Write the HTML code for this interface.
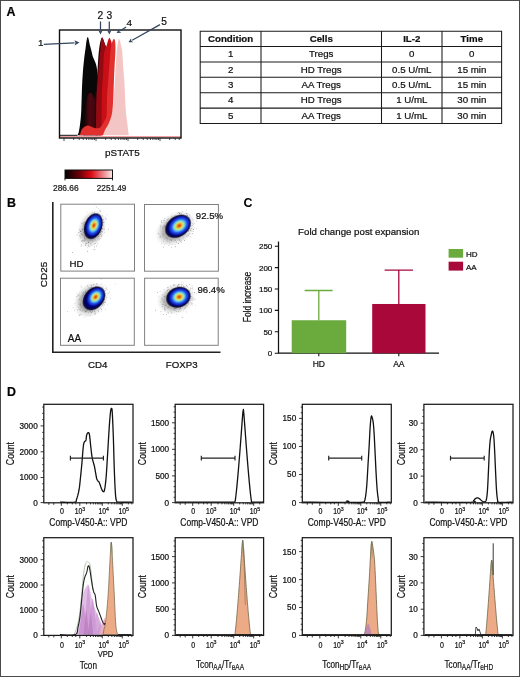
<!DOCTYPE html>
<html><head><meta charset="utf-8"><style>
html,body{margin:0;padding:0;background:#fff;}
body{width:520px;height:677px;overflow:hidden;position:relative;font-family:"Liberation Sans",sans-serif;}
#fr{position:absolute;left:0;top:0;width:518px;height:675px;border:1px solid #4a4a4a;pointer-events:none;}
svg{position:absolute;left:0;top:0;display:block;} text{filter:grayscale(1);stroke:#111;stroke-width:0.22px;}
</style></head><body>
<svg width="520" height="677" viewBox="0 0 520 677" font-family="Liberation Sans, sans-serif">
<rect x="0" y="0" width="520" height="677" fill="#fff"/>
<text x="6.6" y="15.9" font-size="12.4" font-weight="bold" fill="#000">A</text>
<path d="M97,135.3 L97.54,135.09 L98.31,134.81 L99.18,134.44 L100,134 L100.75,133.49 L101.5,132.92 L102.25,132.26 L103,131.5 L103.75,130.64 L104.5,129.69 L105.25,128.64 L106,127.5 L106.76,126.29 L107.53,125 L108.29,123.59 L109,122 L109.68,120.22 L110.33,118.28 L110.94,116.2 L111.5,114 L112,111.62 L112.46,109.06 L112.86,106.48 L113.2,104 L113.45,102.05 L113.61,100.44 L113.77,98.35 L114,95 L114.34,89.64 L114.74,82.88 L115.14,75.92 L115.5,70 L115.79,65.38 L116.05,61.44 L116.28,58.02 L116.5,55 L116.69,52.46 L116.85,50.44 L117.01,48.7 L117.2,47 L117.43,45.27 L117.69,43.63 L117.96,42.18 L118.2,41 L118.41,40.12 L118.61,39.49 L118.8,39.09 L119,38.9 L119.2,38.92 L119.39,39.15 L119.59,39.58 L119.8,40.2 L120.03,41.04 L120.28,42.09 L120.53,43.27 L120.8,44.5 L121.1,45.76 L121.42,47.08 L121.74,48.49 L122,50 L122.19,51.5 L122.33,53.03 L122.45,54.79 L122.6,57 L122.78,59.85 L122.97,63.19 L123.18,66.68 L123.4,70 L123.64,72.93 L123.9,75.69 L124.16,78.6 L124.4,82 L124.61,86.2 L124.81,90.94 L125,95.71 L125.2,100 L125.39,103.67 L125.57,107 L125.76,110.08 L126,113 L126.3,115.76 L126.64,118.31 L126.99,120.71 L127.3,123 L127.56,125.23 L127.79,127.36 L128.01,129.31 L128.2,131 L128.39,132.44 L128.56,133.65 L128.7,134.61 L128.8,135.3 Z" fill="#f4c5c5"/>
<path d="M77.5,135.3 L77.67,135 L77.92,134.59 L78.21,133.96 L78.5,133 L78.81,131.67 L79.14,130.04 L79.47,128.14 L79.8,126 L80.12,123.55 L80.45,120.81 L80.75,117.91 L81,115 L81.17,112.21 L81.29,109.44 L81.38,106.45 L81.5,103 L81.64,98.8 L81.78,94.06 L81.93,89.29 L82.1,85 L82.29,81.26 L82.5,77.81 L82.71,74.71 L82.9,72 L83.05,69.9 L83.18,68.31 L83.32,66.82 L83.5,65 L83.74,62.64 L84.03,60 L84.32,57.36 L84.6,55 L84.86,53.04 L85.11,51.31 L85.36,49.68 L85.6,48 L85.83,46.18 L86.04,44.32 L86.26,42.55 L86.5,41 L86.76,39.63 L87.04,38.38 L87.33,37.42 L87.6,36.9 L87.86,36.93 L88.11,37.41 L88.36,38.16 L88.6,39 L88.83,39.97 L89.05,41.14 L89.27,42.37 L89.5,43.5 L89.74,44.48 L89.98,45.39 L90.23,46.3 L90.5,47.3 L90.79,48.42 L91.09,49.61 L91.4,50.82 L91.7,52 L91.97,53.15 L92.22,54.29 L92.49,55.41 L92.8,56.5 L93.18,57.52 L93.61,58.5 L94.06,59.48 L94.5,60.5 L94.94,61.53 L95.39,62.56 L95.82,63.69 L96.2,65 L96.54,66.55 L96.84,68.28 L97.1,70.12 L97.3,72 L97.44,73.65 L97.52,75.19 L97.57,77.13 L97.6,80 L97.6,83.8 L97.57,88.29 L97.53,93.64 L97.5,100 L97.49,108.58 L97.49,118.9 L97.5,128.6 L97.5,135.3 Z" fill="#080808"/>
<path d="M83.3,135.3 L83.38,134 L83.5,132.15 L83.64,130.05 L83.8,128 L83.97,126.1 L84.17,124.17 L84.38,122.16 L84.6,120 L84.84,117.64 L85.09,115.12 L85.35,112.55 L85.6,110 L85.84,107.38 L86.07,104.69 L86.32,102.15 L86.6,100 L86.91,98.33 L87.24,97.01 L87.6,95.93 L88,95 L88.46,94.2 L88.96,93.58 L89.49,93.15 L90,92.9 L90.51,92.87 L91.03,93.05 L91.54,93.38 L92,93.8 L92.41,94.38 L92.79,95.11 L93.15,95.87 L93.5,96.5 L93.85,97.14 L94.18,97.79 L94.5,98.18 L94.8,98 L95.08,97.07 L95.34,95.59 L95.58,93.82 L95.8,92 L95.99,90.28 L96.15,88.5 L96.31,86.47 L96.5,84 L96.73,80.95 L96.98,77.44 L97.24,73.71 L97.5,70 L97.75,66.2 L97.99,62.25 L98.24,58.42 L98.5,55 L98.78,52.04 L99.08,49.41 L99.39,47.07 L99.7,45 L100.02,43.23 L100.35,41.75 L100.68,40.52 L101,39.5 L101.31,38.66 L101.61,38.03 L101.91,37.64 L102.2,37.5 L102.48,37.68 L102.75,38.16 L103.02,38.8 L103.3,39.5 L103.59,40.25 L103.88,41.11 L104.18,42.03 L104.5,43 L104.87,43.94 L105.26,44.89 L105.65,45.97 L106,47.3 L106.29,48.58 L106.54,49.86 L106.78,51.78 L107,55 L107.25,59.96 L107.51,66.23 L107.72,73.13 L107.8,80 L107.76,87.02 L107.64,94.44 L107.39,101.63 L107,108 L106.39,113.41 L105.61,118.17 L104.77,122.35 L104,126 L103.28,129.15 L102.56,131.78 L101.94,133.83 L101.5,135.3 Z" fill="url(#shg)"/>
<path d="M95.8,135.3 L95.83,132.66 L95.88,128.9 L95.94,124.51 L96,120 L96.06,115.14 L96.12,109.79 L96.19,104.55 L96.3,100 L96.44,96.46 L96.61,93.56 L96.79,90.88 L97,88 L97.23,84.82 L97.47,81.56 L97.74,78.27 L98,75 L98.27,71.73 L98.54,68.44 L98.82,65.18 L99.1,62 L99.4,58.87 L99.72,55.78 L100.03,52.8 L100.3,50 L100.5,47.3 L100.65,44.69 L100.8,42.36 L101,40.5 L101.27,39.18 L101.57,38.28 L101.9,37.75 L102.2,37.5 L102.48,37.61 L102.75,38.09 L103.02,38.78 L103.3,39.5 L103.59,40.25 L103.88,41.11 L104.18,42.03 L104.5,43 L104.87,43.94 L105.26,44.89 L105.65,45.97 L106,47.3 L106.29,48.58 L106.54,49.86 L106.78,51.78 L107,55 L107.25,59.96 L107.51,66.23 L107.72,73.13 L107.8,80 L107.76,87.02 L107.64,94.44 L107.39,101.63 L107,108 L106.39,113.41 L105.61,118.17 L104.77,122.35 L104,126 L103.28,129.15 L102.56,131.78 L101.94,133.83 L101.5,135.3 Z" fill="#940a12"/>
<path d="M100.5,135.3 L100.66,133.56 L100.88,131.09 L101.12,128.15 L101.3,125 L101.41,121.58 L101.49,117.79 L101.54,113.86 L101.6,110 L101.65,106.2 L101.67,102.38 L101.72,98.61 L101.8,95 L101.94,91.59 L102.11,88.31 L102.31,85.13 L102.5,82 L102.7,78.93 L102.93,75.94 L103.13,72.98 L103.3,70 L103.4,66.87 L103.44,63.66 L103.49,60.61 L103.6,58 L103.77,55.93 L103.97,54.26 L104.22,52.83 L104.5,51.5 L104.84,50.28 L105.23,49.23 L105.63,48.27 L106,47.3 L106.32,46.32 L106.62,45.37 L106.91,44.43 L107.2,43.5 L107.48,42.53 L107.75,41.54 L108.02,40.6 L108.3,39.8 L108.6,39.08 L108.9,38.43 L109.2,37.96 L109.5,37.8 L109.78,38.02 L110.05,38.54 L110.32,39.24 L110.6,40 L110.9,40.66 L111.22,41.34 L111.53,42.29 L111.8,43.8 L112.04,45.76 L112.27,48.07 L112.44,51.06 L112.5,55 L112.44,60.16 L112.27,66.33 L112.05,73.08 L111.8,80 L111.59,87.48 L111.39,95.56 L111.06,103.37 L110.5,110 L109.61,115.14 L108.48,119.29 L107.24,122.8 L106,126 L104.67,129.01 L103.22,131.65 L101.91,133.79 L101,135.3 Z" fill="#c90e16"/>
<path d="M79.5,135.3 L79.69,134.89 L79.96,134.31 L80.25,133.64 L80.5,133 L80.67,132.39 L80.8,131.76 L80.95,131.13 L81.2,130.5 L81.56,129.86 L81.99,129.21 L82.48,128.58 L83,128 L83.57,127.47 L84.18,126.98 L84.83,126.55 L85.5,126.2 L86.2,125.93 L86.94,125.73 L87.69,125.62 L88.4,125.6 L89.06,125.71 L89.69,125.93 L90.33,126.21 L91,126.5 L91.72,126.82 L92.47,127.17 L93.24,127.52 L94,127.8 L94.75,128.01 L95.5,128.18 L96.25,128.29 L97,128.3 L97.76,128.24 L98.53,128.12 L99.29,127.89 L100,127.5 L100.66,126.93 L101.29,126.2 L101.9,125.37 L102.5,124.5 L103.1,123.58 L103.7,122.59 L104.27,121.56 L104.8,120.5 L105.3,119.56 L105.77,118.69 L106.18,117.59 L106.5,116 L106.7,113.68 L106.79,110.84 L106.84,107.83 L106.9,105 L106.95,102.43 L106.98,99.94 L107.02,97.48 L107.1,95 L107.24,92.52 L107.41,90.06 L107.6,87.57 L107.8,85 L108.01,82.34 L108.24,79.62 L108.47,76.84 L108.7,74 L108.93,71.02 L109.16,67.94 L109.38,64.88 L109.6,62 L109.81,59.27 L110.01,56.62 L110.21,54.17 L110.4,52 L110.57,50.17 L110.73,48.62 L110.9,47.27 L111.1,46 L111.35,44.82 L111.64,43.76 L111.93,42.83 L112.2,42 L112.44,41.3 L112.66,40.72 L112.87,40.23 L113.1,39.8 L113.35,39.38 L113.61,39 L113.86,38.75 L114.1,38.7 L114.32,38.88 L114.53,39.25 L114.73,39.79 L114.9,40.5 L115.06,41.38 L115.2,42.42 L115.32,43.64 L115.4,45 L115.45,46.5 L115.47,48.16 L115.45,49.98 L115.4,52 L115.29,54.24 L115.14,56.69 L114.96,59.29 L114.8,62 L114.65,64.91 L114.49,68 L114.34,71.09 L114.2,74 L114.09,76.5 L114,78.75 L113.91,81.12 L113.8,84 L113.67,87.67 L113.54,91.88 L113.38,96.14 L113.2,100 L112.99,103.4 L112.77,106.56 L112.51,109.45 L112.2,112 L111.84,114.12 L111.44,115.88 L111,117.44 L110.5,119 L109.94,120.59 L109.33,122.12 L108.68,123.59 L108,125 L107.26,126.31 L106.47,127.54 L105.69,128.75 L105,130 L104.38,131.43 L103.81,132.96 L103.34,134.34 L103,135.3 Z" fill="#e2302f"/>
<rect x="59.5" y="134.8" width="18.0" height="1" fill="#111"/>
<rect x="59.5" y="136" width="121.5" height="1.2" fill="#f0a0a0"/>
<rect x="59.5" y="30" width="121.5" height="108" fill="none" stroke="#111" stroke-width="1.4"/>
<path d="M64,138 v3 M73.63,138 v2 M79.27,138 v2 M83.27,138 v2 M86.37,138 v2 M88.9,138 v2 M91.04,138 v2 M92.9,138 v2 M94.54,138 v2 M96,138 v3 M105.63,138 v2 M111.27,138 v2 M115.27,138 v2 M118.37,138 v2 M120.9,138 v2 M123.04,138 v2 M124.9,138 v2 M126.54,138 v2 M128,138 v3 M137.63,138 v2 M143.27,138 v2 M147.27,138 v2 M150.37,138 v2 M152.9,138 v2 M155.04,138 v2 M156.9,138 v2 M158.54,138 v2 M160,138 v3 M169.63,138 v2 M175.27,138 v2 M179.27,138 v2" stroke="#222" stroke-width="0.8"/>
<text x="122.5" y="156.2" font-size="9.9" text-anchor="middle" fill="#111">pSTAT5</text>
<path d="M43.8,44.3 L74.51,42.84" stroke="#34465f" stroke-width="1.25"/>
<path d="M79.5,42.6 L74.63,45.43 L75.5,42.79 L74.38,40.24 Z" fill="#34465f"/>
<path d="M100.5,21.5 L100.5,30.3" stroke="#34465f" stroke-width="1.25"/>
<path d="M100.5,34.5 L98.3,30.3 L100.5,31.3 L102.7,30.3 Z" fill="#34465f"/>
<path d="M109.3,21.5 L109.3,30.3" stroke="#34465f" stroke-width="1.25"/>
<path d="M109.3,34.5 L107.1,30.3 L109.3,31.3 L111.5,30.3 Z" fill="#34465f"/>
<path d="M126.2,27 L120.16,30.77" stroke="#34465f" stroke-width="1.25"/>
<path d="M116.6,33 L119,28.91 L119.31,31.3 L121.33,32.64 Z" fill="#34465f"/>
<path d="M160,24.6 L132.16,40.24" stroke="#34465f" stroke-width="1.25"/>
<path d="M128.5,42.3 L131.08,38.32 L131.29,40.73 L133.24,42.16 Z" fill="#34465f"/>
<text x="37.9" y="45.9" font-size="9.9" fill="#111">1</text>
<text x="97.4" y="19" font-size="10.2" fill="#111">2</text>
<text x="106.6" y="19" font-size="10.2" fill="#111">3</text>
<text x="126.5" y="26" font-size="9.9" fill="#111">4</text>
<text x="161.3" y="25.3" font-size="10.2" fill="#111">5</text>
<defs><linearGradient id="shg" gradientUnits="userSpaceOnUse" x1="83.5" y1="0" x2="96" y2="0"><stop offset="0" stop-color="#160003"/><stop offset="0.5" stop-color="#4e0810"/><stop offset="0.85" stop-color="#400610"/><stop offset="1" stop-color="#2a0208"/></linearGradient></defs>
<defs><linearGradient id="cb" x1="0" x2="1" y1="0" y2="0"><stop offset="0" stop-color="#000"/><stop offset="0.3" stop-color="#6a0008"/><stop offset="0.55" stop-color="#dc0a14"/><stop offset="0.78" stop-color="#ea7a80"/><stop offset="1" stop-color="#fbeaea"/></linearGradient></defs>
<rect x="65" y="170" width="47.5" height="8.4" fill="url(#cb)" stroke="#111" stroke-width="1"/>
<path d="M65,178.4 v2 M112.5,178.4 v2" stroke="#111" stroke-width="0.9"/>
<text x="65.8" y="191.3" font-size="8.4" text-anchor="middle" fill="#222">286.66</text>
<text x="111.6" y="191.3" font-size="8.2" text-anchor="middle" fill="#222">2251.49</text>
<path d="M200.2,31.2 V123.5 M261,31.2 V123.5 M381.5,31.2 V123.5 M442,31.2 V123.5 M501.6,31.2 V123.5 M199.7,31.2 H502.1 M199.7,46.5 H502.1 M199.7,61.9 H502.1 M199.7,77.3 H502.1 M199.7,92.7 H502.1 M199.7,108.1 H502.1 M199.7,123.5 H502.1" stroke="#1a1a1a" stroke-width="1.05"/>
<text x="230.6" y="41.9" font-size="9.7" text-anchor="middle" font-weight="bold" fill="#111">Condition</text>
<text x="321.25" y="41.9" font-size="9.7" text-anchor="middle" font-weight="bold" fill="#111">Cells</text>
<text x="411.75" y="41.9" font-size="9.7" text-anchor="middle" font-weight="bold" fill="#111">IL-2</text>
<text x="471.8" y="41.9" font-size="9.7" text-anchor="middle" font-weight="bold" fill="#111">Time</text>
<text x="230.6" y="57.2" font-size="9.7" text-anchor="middle" fill="#111">1</text>
<text x="321.25" y="57.2" font-size="9.7" text-anchor="middle" fill="#111">Tregs</text>
<text x="411.75" y="57.2" font-size="9.7" text-anchor="middle" fill="#111">0</text>
<text x="471.8" y="57.2" font-size="9.7" text-anchor="middle" fill="#111">0</text>
<text x="230.6" y="72.6" font-size="9.7" text-anchor="middle" fill="#111">2</text>
<text x="321.25" y="72.6" font-size="9.7" text-anchor="middle" fill="#111">HD Tregs</text>
<text x="411.75" y="72.6" font-size="9.7" text-anchor="middle" fill="#111">0.5 U/mL</text>
<text x="471.8" y="72.6" font-size="9.7" text-anchor="middle" fill="#111">15 min</text>
<text x="230.6" y="88" font-size="9.7" text-anchor="middle" fill="#111">3</text>
<text x="321.25" y="88" font-size="9.7" text-anchor="middle" fill="#111">AA Tregs</text>
<text x="411.75" y="88" font-size="9.7" text-anchor="middle" fill="#111">0.5 U/mL</text>
<text x="471.8" y="88" font-size="9.7" text-anchor="middle" fill="#111">15 min</text>
<text x="230.6" y="103.4" font-size="9.7" text-anchor="middle" fill="#111">4</text>
<text x="321.25" y="103.4" font-size="9.7" text-anchor="middle" fill="#111">HD Tregs</text>
<text x="411.75" y="103.4" font-size="9.7" text-anchor="middle" fill="#111">1 U/mL</text>
<text x="471.8" y="103.4" font-size="9.7" text-anchor="middle" fill="#111">30 min</text>
<text x="230.6" y="118.8" font-size="9.7" text-anchor="middle" fill="#111">5</text>
<text x="321.25" y="118.8" font-size="9.7" text-anchor="middle" fill="#111">AA Tregs</text>
<text x="411.75" y="118.8" font-size="9.7" text-anchor="middle" fill="#111">1 U/mL</text>
<text x="471.8" y="118.8" font-size="9.7" text-anchor="middle" fill="#111">30 min</text>
<text x="7.0" y="206.8" font-size="12.4" font-weight="bold" fill="#000">B</text>
<path d="M52.8,202 V352.3 H220.5" fill="none" stroke="#222" stroke-width="1.6"/>
<defs><radialGradient id="blob"><stop offset="0" stop-color="#d03010"/><stop offset="0.12" stop-color="#e86818"/><stop offset="0.22" stop-color="#e8c040"/><stop offset="0.32" stop-color="#b8e890"/><stop offset="0.42" stop-color="#60c8f0"/><stop offset="0.52" stop-color="#2a78f0"/><stop offset="0.64" stop-color="#1a3ce0"/><stop offset="0.76" stop-color="#0a1aa0"/><stop offset="0.86" stop-color="#03034c"/><stop offset="0.94" stop-color="#000020" stop-opacity="0.8"/><stop offset="1" stop-color="#000020" stop-opacity="0"/></radialGradient><radialGradient id="core"><stop offset="0" stop-color="#cc3a10"/><stop offset="0.14" stop-color="#e87a1c"/><stop offset="0.28" stop-color="#e8d050"/><stop offset="0.4" stop-color="#a8e4a8"/><stop offset="0.52" stop-color="#58bcf0"/><stop offset="0.68" stop-color="#2454e8"/><stop offset="0.84" stop-color="#1024c0"/><stop offset="1" stop-color="#0c14a8" stop-opacity="0"/></radialGradient><radialGradient id="dark"><stop offset="0" stop-color="#000090"/><stop offset="0.75" stop-color="#000068"/><stop offset="0.88" stop-color="#000030" stop-opacity="0.9"/><stop offset="1" stop-color="#000010" stop-opacity="0"/></radialGradient><radialGradient id="halo"><stop offset="0" stop-color="#444" stop-opacity="0.6"/><stop offset="0.6" stop-color="#555" stop-opacity="0.45"/><stop offset="0.8" stop-color="#888" stop-opacity="0.2"/><stop offset="1" stop-color="#aaa" stop-opacity="0"/></radialGradient></defs>
<rect x="60.8" y="204.2" width="73.7" height="66.9" fill="none" stroke="#808080" stroke-width="1"/>
<rect x="144.5" y="204.5" width="73.9" height="66.7" fill="none" stroke="#808080" stroke-width="1"/>
<rect x="60.5" y="278.2" width="73.8" height="67.1" fill="none" stroke="#808080" stroke-width="1"/>
<rect x="144.6" y="278.2" width="73.6" height="67.1" fill="none" stroke="#808080" stroke-width="1"/>
<g transform="translate(91.72,228.9) rotate(20)"><ellipse cx="0" cy="0" rx="13.95" ry="20.02" fill="url(#halo)"/></g>
<rect x="81.7" y="240.69" width="0.7" height="0.7" fill="#111" opacity="0.65"/><rect x="88.12" y="244.69" width="0.7" height="0.7" fill="#999" opacity="0.41"/><rect x="101.98" y="215.51" width="0.7" height="0.7" fill="#111" opacity="0.49"/><rect x="83.03" y="231.89" width="0.7" height="0.7" fill="#111" opacity="0.48"/><rect x="96.04" y="240.62" width="0.7" height="0.7" fill="#999" opacity="0.61"/><rect x="92.56" y="240.49" width="0.7" height="0.7" fill="#333" opacity="0.39"/><rect x="83.58" y="222.39" width="0.7" height="0.7" fill="#555" opacity="0.43"/><rect x="101.61" y="224.39" width="0.7" height="0.7" fill="#333" opacity="0.24"/><rect x="82.3" y="240.15" width="0.7" height="0.7" fill="#999" opacity="0.41"/><rect x="95.98" y="214.59" width="0.7" height="0.7" fill="#111" opacity="0.58"/><rect x="87.19" y="216.85" width="0.7" height="0.7" fill="#999" opacity="0.45"/><rect x="100.57" y="215.55" width="0.7" height="0.7" fill="#111" opacity="0.23"/><rect x="96.13" y="206.73" width="0.7" height="0.7" fill="#555" opacity="0.56"/><rect x="105.03" y="218.77" width="0.7" height="0.7" fill="#999" opacity="0.26"/><rect x="97.53" y="239.59" width="0.7" height="0.7" fill="#111" opacity="0.28"/><rect x="82.35" y="234.62" width="0.7" height="0.7" fill="#999" opacity="0.34"/><rect x="80.66" y="231.25" width="0.7" height="0.7" fill="#333" opacity="0.24"/><rect x="94.86" y="243.26" width="0.7" height="0.7" fill="#111" opacity="0.44"/><rect x="87.38" y="221.5" width="0.7" height="0.7" fill="#333" opacity="0.55"/><rect x="85.69" y="222.08" width="0.7" height="0.7" fill="#111" opacity="0.43"/><rect x="105.71" y="216.54" width="0.7" height="0.7" fill="#777" opacity="0.40"/><rect x="97.44" y="237.03" width="0.7" height="0.7" fill="#111" opacity="0.30"/><rect x="102.7" y="228.14" width="0.7" height="0.7" fill="#111" opacity="0.20"/><rect x="92.87" y="238.37" width="0.7" height="0.7" fill="#333" opacity="0.51"/><rect x="93.98" y="243.65" width="0.7" height="0.7" fill="#777" opacity="0.44"/><rect x="81.14" y="244.34" width="0.7" height="0.7" fill="#777" opacity="0.61"/><rect x="94.12" y="246.64" width="0.7" height="0.7" fill="#333" opacity="0.55"/><rect x="103.27" y="222.13" width="0.7" height="0.7" fill="#555" opacity="0.69"/><rect x="101.7" y="224.03" width="0.7" height="0.7" fill="#999" opacity="0.47"/><rect x="83.73" y="222.44" width="0.7" height="0.7" fill="#999" opacity="0.61"/><rect x="104.33" y="228.51" width="0.7" height="0.7" fill="#333" opacity="0.30"/><rect x="81.62" y="222.84" width="0.7" height="0.7" fill="#111" opacity="0.60"/><rect x="80.16" y="230.55" width="0.7" height="0.7" fill="#555" opacity="0.68"/><rect x="80.54" y="237.51" width="0.7" height="0.7" fill="#333" opacity="0.44"/><rect x="101.65" y="227.97" width="0.7" height="0.7" fill="#555" opacity="0.60"/><rect x="97.93" y="234.83" width="0.7" height="0.7" fill="#777" opacity="0.59"/><rect x="98.49" y="211.97" width="0.7" height="0.7" fill="#555" opacity="0.24"/><rect x="102.4" y="224.91" width="0.7" height="0.7" fill="#777" opacity="0.40"/><rect x="101.78" y="231.47" width="0.7" height="0.7" fill="#333" opacity="0.51"/><rect x="84.59" y="216.5" width="0.7" height="0.7" fill="#999" opacity="0.27"/><rect x="104.05" y="231.85" width="0.7" height="0.7" fill="#333" opacity="0.42"/><rect x="102.58" y="219.04" width="0.7" height="0.7" fill="#333" opacity="0.21"/><rect x="87.35" y="250.95" width="0.7" height="0.7" fill="#111" opacity="0.66"/><rect x="82.6" y="240.48" width="0.7" height="0.7" fill="#777" opacity="0.61"/><rect x="103.03" y="219.25" width="0.7" height="0.7" fill="#777" opacity="0.59"/><rect x="89.49" y="215.19" width="0.7" height="0.7" fill="#333" opacity="0.29"/><rect x="82.13" y="229.3" width="0.7" height="0.7" fill="#111" opacity="0.64"/><rect x="101.27" y="236.44" width="0.7" height="0.7" fill="#777" opacity="0.48"/><rect x="99.51" y="211.11" width="0.7" height="0.7" fill="#999" opacity="0.50"/><rect x="89.21" y="246.39" width="0.7" height="0.7" fill="#999" opacity="0.67"/><rect x="93.48" y="214.29" width="0.7" height="0.7" fill="#777" opacity="0.27"/><rect x="97.06" y="243.62" width="0.7" height="0.7" fill="#111" opacity="0.31"/><rect x="84.05" y="240.55" width="0.7" height="0.7" fill="#555" opacity="0.27"/><rect x="105.32" y="218.11" width="0.7" height="0.7" fill="#333" opacity="0.57"/><rect x="97.98" y="236.48" width="0.7" height="0.7" fill="#333" opacity="0.28"/><rect x="83.24" y="228.86" width="0.7" height="0.7" fill="#555" opacity="0.41"/><rect x="81.03" y="240.71" width="0.7" height="0.7" fill="#777" opacity="0.37"/><rect x="90.33" y="214.09" width="0.7" height="0.7" fill="#111" opacity="0.26"/><rect x="101.91" y="229.09" width="0.7" height="0.7" fill="#333" opacity="0.34"/><rect x="93.13" y="249.44" width="0.7" height="0.7" fill="#555" opacity="0.40"/><rect x="83.05" y="224.46" width="0.7" height="0.7" fill="#333" opacity="0.41"/><rect x="98.63" y="234.28" width="0.7" height="0.7" fill="#111" opacity="0.60"/><rect x="98.25" y="235.27" width="0.7" height="0.7" fill="#777" opacity="0.21"/><rect x="98.2" y="233.33" width="0.7" height="0.7" fill="#111" opacity="0.46"/><rect x="88.16" y="242.27" width="0.7" height="0.7" fill="#555" opacity="0.47"/><rect x="88.22" y="241.84" width="0.7" height="0.7" fill="#111" opacity="0.70"/><rect x="102.4" y="233.76" width="0.7" height="0.7" fill="#999" opacity="0.44"/><rect x="99.19" y="227.08" width="0.7" height="0.7" fill="#777" opacity="0.47"/><rect x="103.46" y="220.71" width="0.7" height="0.7" fill="#333" opacity="0.40"/><rect x="84.28" y="235.22" width="0.7" height="0.7" fill="#555" opacity="0.42"/><rect x="100.13" y="234" width="0.7" height="0.7" fill="#555" opacity="0.50"/><rect x="94.15" y="212.77" width="0.7" height="0.7" fill="#111" opacity="0.33"/><rect x="101.26" y="228.35" width="0.7" height="0.7" fill="#555" opacity="0.29"/><rect x="83.86" y="240.3" width="0.7" height="0.7" fill="#333" opacity="0.45"/><rect x="100.94" y="229.63" width="0.7" height="0.7" fill="#555" opacity="0.51"/><rect x="98.5" y="235.85" width="0.7" height="0.7" fill="#333" opacity="0.53"/><rect x="92.31" y="212.27" width="0.7" height="0.7" fill="#999" opacity="0.52"/><rect x="101.05" y="233.47" width="0.7" height="0.7" fill="#999" opacity="0.51"/><rect x="97.05" y="213.26" width="0.7" height="0.7" fill="#999" opacity="0.48"/><rect x="98.56" y="220.48" width="0.7" height="0.7" fill="#333" opacity="0.24"/><rect x="101.19" y="235.44" width="0.7" height="0.7" fill="#111" opacity="0.51"/><rect x="94.27" y="212.74" width="0.7" height="0.7" fill="#999" opacity="0.65"/><rect x="96.26" y="245.73" width="0.7" height="0.7" fill="#333" opacity="0.56"/><rect x="91.15" y="239.48" width="0.7" height="0.7" fill="#777" opacity="0.45"/><rect x="80.47" y="234.87" width="0.7" height="0.7" fill="#999" opacity="0.52"/><rect x="91.6" y="239.17" width="0.7" height="0.7" fill="#555" opacity="0.33"/><rect x="97.59" y="214.47" width="0.7" height="0.7" fill="#111" opacity="0.55"/><rect x="91.59" y="213.08" width="0.7" height="0.7" fill="#777" opacity="0.58"/><rect x="101.41" y="231.25" width="0.7" height="0.7" fill="#111" opacity="0.61"/><rect x="101.44" y="228.18" width="0.7" height="0.7" fill="#333" opacity="0.24"/><rect x="95.08" y="239.6" width="0.7" height="0.7" fill="#555" opacity="0.64"/><rect x="91.87" y="214.49" width="0.7" height="0.7" fill="#111" opacity="0.28"/><rect x="103.29" y="225.11" width="0.7" height="0.7" fill="#777" opacity="0.37"/><rect x="84.1" y="238.77" width="0.7" height="0.7" fill="#111" opacity="0.36"/><rect x="80.78" y="245.27" width="0.7" height="0.7" fill="#555" opacity="0.39"/><rect x="80.55" y="233.68" width="0.7" height="0.7" fill="#999" opacity="0.24"/><rect x="102.26" y="228.07" width="0.7" height="0.7" fill="#333" opacity="0.32"/><rect x="85.1" y="244.85" width="0.7" height="0.7" fill="#333" opacity="0.59"/><rect x="99.66" y="214.44" width="0.7" height="0.7" fill="#777" opacity="0.66"/><rect x="102.5" y="224.47" width="0.7" height="0.7" fill="#111" opacity="0.22"/><rect x="98.45" y="208" width="0.7" height="0.7" fill="#555" opacity="0.44"/><rect x="103.69" y="221.76" width="0.7" height="0.7" fill="#333" opacity="0.44"/><rect x="84.12" y="235.79" width="0.7" height="0.7" fill="#555" opacity="0.40"/><rect x="84.88" y="245.05" width="0.7" height="0.7" fill="#333" opacity="0.24"/><rect x="82.88" y="228.33" width="0.7" height="0.7" fill="#777" opacity="0.27"/><rect x="90.13" y="243.45" width="0.7" height="0.7" fill="#333" opacity="0.38"/><rect x="100.34" y="215.95" width="0.7" height="0.7" fill="#777" opacity="0.41"/><rect x="84.34" y="221.74" width="0.7" height="0.7" fill="#555" opacity="0.49"/><rect x="83.7" y="234.64" width="0.7" height="0.7" fill="#333" opacity="0.25"/><rect x="102.61" y="222.66" width="0.7" height="0.7" fill="#555" opacity="0.62"/><rect x="102.58" y="219.14" width="0.7" height="0.7" fill="#777" opacity="0.68"/><rect x="81.18" y="230.76" width="0.7" height="0.7" fill="#999" opacity="0.63"/><rect x="99.62" y="231.86" width="0.7" height="0.7" fill="#777" opacity="0.24"/><rect x="99.21" y="217.34" width="0.7" height="0.7" fill="#111" opacity="0.52"/><rect x="85.5" y="238.19" width="0.7" height="0.7" fill="#111" opacity="0.25"/><rect x="85.61" y="238.42" width="0.7" height="0.7" fill="#333" opacity="0.39"/><rect x="88.28" y="245.78" width="0.7" height="0.7" fill="#333" opacity="0.44"/><rect x="85.6" y="243.74" width="0.7" height="0.7" fill="#555" opacity="0.23"/><rect x="90.51" y="245.54" width="0.7" height="0.7" fill="#555" opacity="0.31"/><rect x="100.31" y="238.03" width="0.7" height="0.7" fill="#333" opacity="0.20"/><rect x="85.8" y="243.18" width="0.7" height="0.7" fill="#333" opacity="0.32"/><rect x="90.16" y="239.62" width="0.7" height="0.7" fill="#555" opacity="0.25"/><rect x="85.6" y="210.9" width="0.7" height="0.7" fill="#999" opacity="0.27"/><rect x="76.6" y="234.56" width="0.7" height="0.7" fill="#111" opacity="0.55"/><rect x="91.64" y="244.47" width="0.7" height="0.7" fill="#333" opacity="0.36"/><rect x="92.28" y="240.13" width="0.7" height="0.7" fill="#777" opacity="0.22"/><rect x="92.22" y="211.96" width="0.7" height="0.7" fill="#555" opacity="0.24"/><rect x="82.45" y="230.09" width="0.7" height="0.7" fill="#999" opacity="0.68"/><rect x="90.44" y="242.85" width="0.7" height="0.7" fill="#777" opacity="0.24"/><rect x="93.91" y="211.62" width="0.7" height="0.7" fill="#555" opacity="0.38"/><rect x="104.99" y="219.75" width="0.7" height="0.7" fill="#777" opacity="0.22"/><rect x="96.58" y="233.76" width="0.7" height="0.7" fill="#111" opacity="0.65"/><rect x="84.59" y="235.72" width="0.7" height="0.7" fill="#555" opacity="0.57"/><rect x="95.28" y="204.66" width="0.7" height="0.7" fill="#555" opacity="0.20"/><rect x="99.68" y="209.87" width="0.7" height="0.7" fill="#111" opacity="0.61"/><rect x="97.5" y="238.02" width="0.7" height="0.7" fill="#777" opacity="0.68"/><rect x="80.59" y="233.16" width="0.7" height="0.7" fill="#555" opacity="0.61"/><rect x="100.51" y="211.05" width="0.7" height="0.7" fill="#555" opacity="0.63"/><rect x="83.85" y="226.34" width="0.7" height="0.7" fill="#777" opacity="0.58"/><rect x="87.23" y="247.05" width="0.7" height="0.7" fill="#555" opacity="0.28"/><rect x="83.47" y="229.21" width="0.7" height="0.7" fill="#333" opacity="0.25"/><rect x="84.81" y="223.25" width="0.7" height="0.7" fill="#777" opacity="0.29"/><rect x="94.41" y="249.38" width="0.7" height="0.7" fill="#111" opacity="0.59"/><rect x="84.85" y="240.43" width="0.7" height="0.7" fill="#555" opacity="0.30"/><rect x="89.07" y="238.23" width="0.7" height="0.7" fill="#999" opacity="0.29"/><rect x="98.76" y="238.66" width="0.7" height="0.7" fill="#111" opacity="0.53"/><rect x="103.69" y="229" width="0.7" height="0.7" fill="#777" opacity="0.66"/><rect x="100.71" y="234.55" width="0.7" height="0.7" fill="#999" opacity="0.30"/><rect x="99.31" y="235.72" width="0.7" height="0.7" fill="#111" opacity="0.25"/><rect x="89.23" y="216.93" width="0.7" height="0.7" fill="#333" opacity="0.22"/><rect x="72.36" y="252.13" width="0.7" height="0.7" fill="#111" opacity="0.61"/><rect x="78.49" y="232.27" width="0.7" height="0.7" fill="#111" opacity="0.60"/><rect x="83.95" y="223.69" width="0.7" height="0.7" fill="#111" opacity="0.53"/><rect x="79.76" y="236.13" width="0.7" height="0.7" fill="#777" opacity="0.68"/><rect x="80.78" y="245.96" width="0.7" height="0.7" fill="#555" opacity="0.52"/><rect x="79.46" y="235.31" width="0.7" height="0.7" fill="#333" opacity="0.41"/><rect x="103.81" y="211.64" width="0.7" height="0.7" fill="#999" opacity="0.27"/><rect x="100.13" y="219.04" width="0.7" height="0.7" fill="#999" opacity="0.29"/><rect x="82.79" y="240.52" width="0.7" height="0.7" fill="#333" opacity="0.35"/><rect x="98.54" y="218.37" width="0.7" height="0.7" fill="#999" opacity="0.66"/><rect x="81.35" y="233.72" width="0.7" height="0.7" fill="#333" opacity="0.52"/><rect x="103.62" y="216.77" width="0.7" height="0.7" fill="#999" opacity="0.62"/><rect x="99.37" y="219.04" width="0.7" height="0.7" fill="#111" opacity="0.27"/><rect x="103.53" y="226.96" width="0.7" height="0.7" fill="#333" opacity="0.22"/><rect x="87.66" y="218.97" width="0.7" height="0.7" fill="#111" opacity="0.39"/><rect x="83.79" y="226.77" width="0.7" height="0.7" fill="#555" opacity="0.52"/><rect x="84.31" y="237.61" width="0.7" height="0.7" fill="#111" opacity="0.51"/><rect x="79.45" y="229.11" width="0.7" height="0.7" fill="#777" opacity="0.62"/><rect x="99.37" y="221.03" width="0.7" height="0.7" fill="#999" opacity="0.46"/><rect x="100.25" y="232.38" width="0.7" height="0.7" fill="#111" opacity="0.66"/><rect x="86.07" y="236.3" width="0.7" height="0.7" fill="#777" opacity="0.53"/><rect x="99.68" y="218.21" width="0.7" height="0.7" fill="#111" opacity="0.30"/><rect x="108.08" y="228.83" width="0.7" height="0.7" fill="#333" opacity="0.54"/><rect x="92.76" y="217.86" width="0.7" height="0.7" fill="#555" opacity="0.28"/><rect x="100.87" y="227.44" width="0.7" height="0.7" fill="#333" opacity="0.50"/><rect x="87.07" y="211.87" width="0.7" height="0.7" fill="#777" opacity="0.28"/><rect x="101.46" y="224.46" width="0.7" height="0.7" fill="#999" opacity="0.22"/><rect x="106.6" y="214.27" width="0.7" height="0.7" fill="#777" opacity="0.48"/><rect x="87.98" y="217.05" width="0.7" height="0.7" fill="#777" opacity="0.57"/><rect x="82.33" y="234.54" width="0.7" height="0.7" fill="#555" opacity="0.58"/><rect x="78.94" y="229.93" width="0.7" height="0.7" fill="#999" opacity="0.66"/><rect x="106.27" y="218.91" width="0.7" height="0.7" fill="#111" opacity="0.31"/><rect x="85.49" y="242.98" width="0.7" height="0.7" fill="#999" opacity="0.53"/><rect x="100.64" y="232.5" width="0.7" height="0.7" fill="#555" opacity="0.47"/><rect x="80.37" y="231.27" width="0.7" height="0.7" fill="#111" opacity="0.67"/><rect x="88.24" y="244.73" width="0.7" height="0.7" fill="#555" opacity="0.40"/><rect x="86.03" y="243.01" width="0.7" height="0.7" fill="#555" opacity="0.50"/><rect x="88.27" y="217.77" width="0.7" height="0.7" fill="#999" opacity="0.57"/><rect x="88.71" y="239.07" width="0.7" height="0.7" fill="#777" opacity="0.29"/><rect x="93.93" y="238.4" width="0.7" height="0.7" fill="#111" opacity="0.21"/>
<g transform="translate(93.3,226.2) rotate(20)"><ellipse cx="0" cy="0" rx="9.3" ry="14.1" fill="url(#dark)"/></g>
<g transform="translate(93.9,225.4) rotate(20)"><ellipse cx="0" cy="0" rx="7.81" ry="11.84" fill="url(#core)"/></g>
<g transform="translate(175.3,228.55) rotate(-35)"><ellipse cx="0" cy="0" rx="22.2" ry="15.48" fill="url(#halo)"/></g>
<rect x="159.55" y="234.83" width="0.7" height="0.7" fill="#777" opacity="0.61"/><rect x="186.45" y="230.49" width="0.7" height="0.7" fill="#777" opacity="0.56"/><rect x="186.99" y="219.6" width="0.7" height="0.7" fill="#333" opacity="0.70"/><rect x="184.89" y="238.52" width="0.7" height="0.7" fill="#111" opacity="0.37"/><rect x="171.2" y="216.65" width="0.7" height="0.7" fill="#555" opacity="0.52"/><rect x="162.7" y="220.09" width="0.7" height="0.7" fill="#999" opacity="0.69"/><rect x="178.03" y="243.05" width="0.7" height="0.7" fill="#333" opacity="0.62"/><rect x="182.44" y="234.46" width="0.7" height="0.7" fill="#777" opacity="0.36"/><rect x="186.69" y="236.55" width="0.7" height="0.7" fill="#999" opacity="0.43"/><rect x="179.33" y="212.81" width="0.7" height="0.7" fill="#111" opacity="0.42"/><rect x="164.47" y="218.42" width="0.7" height="0.7" fill="#333" opacity="0.27"/><rect x="184.35" y="221.48" width="0.7" height="0.7" fill="#333" opacity="0.55"/><rect x="192.7" y="218.92" width="0.7" height="0.7" fill="#999" opacity="0.58"/><rect x="189.75" y="233.33" width="0.7" height="0.7" fill="#999" opacity="0.65"/><rect x="195.95" y="220.79" width="0.7" height="0.7" fill="#111" opacity="0.32"/><rect x="184.07" y="240.03" width="0.7" height="0.7" fill="#111" opacity="0.61"/><rect x="160.63" y="226.77" width="0.7" height="0.7" fill="#555" opacity="0.37"/><rect x="176.82" y="236.33" width="0.7" height="0.7" fill="#555" opacity="0.66"/><rect x="167.15" y="219.61" width="0.7" height="0.7" fill="#111" opacity="0.42"/><rect x="168.09" y="218.56" width="0.7" height="0.7" fill="#333" opacity="0.56"/><rect x="174.42" y="214.91" width="0.7" height="0.7" fill="#111" opacity="0.20"/><rect x="160.47" y="236.43" width="0.7" height="0.7" fill="#777" opacity="0.50"/><rect x="184.83" y="218.56" width="0.7" height="0.7" fill="#333" opacity="0.45"/><rect x="190.46" y="225.5" width="0.7" height="0.7" fill="#111" opacity="0.45"/><rect x="189.33" y="222.7" width="0.7" height="0.7" fill="#111" opacity="0.41"/><rect x="164.1" y="227.05" width="0.7" height="0.7" fill="#999" opacity="0.45"/><rect x="169.44" y="243.77" width="0.7" height="0.7" fill="#999" opacity="0.52"/><rect x="174.87" y="244" width="0.7" height="0.7" fill="#999" opacity="0.57"/><rect x="193.28" y="231.29" width="0.7" height="0.7" fill="#333" opacity="0.37"/><rect x="164.54" y="224.49" width="0.7" height="0.7" fill="#999" opacity="0.30"/><rect x="179.07" y="239.58" width="0.7" height="0.7" fill="#555" opacity="0.50"/><rect x="168.35" y="245.13" width="0.7" height="0.7" fill="#111" opacity="0.28"/><rect x="164.51" y="225.38" width="0.7" height="0.7" fill="#555" opacity="0.30"/><rect x="163.26" y="227.25" width="0.7" height="0.7" fill="#111" opacity="0.21"/><rect x="180.64" y="213.03" width="0.7" height="0.7" fill="#555" opacity="0.43"/><rect x="190.2" y="227.87" width="0.7" height="0.7" fill="#777" opacity="0.20"/><rect x="185.94" y="236.19" width="0.7" height="0.7" fill="#777" opacity="0.62"/><rect x="163.76" y="221.84" width="0.7" height="0.7" fill="#999" opacity="0.63"/><rect x="161.62" y="222.03" width="0.7" height="0.7" fill="#777" opacity="0.32"/><rect x="171" y="240.1" width="0.7" height="0.7" fill="#333" opacity="0.33"/><rect x="163.11" y="246.74" width="0.7" height="0.7" fill="#333" opacity="0.65"/><rect x="171.81" y="243.72" width="0.7" height="0.7" fill="#111" opacity="0.22"/><rect x="162.51" y="232.99" width="0.7" height="0.7" fill="#999" opacity="0.37"/><rect x="178.92" y="213.15" width="0.7" height="0.7" fill="#111" opacity="0.52"/><rect x="178.33" y="212.2" width="0.7" height="0.7" fill="#333" opacity="0.70"/><rect x="187.97" y="230.75" width="0.7" height="0.7" fill="#111" opacity="0.56"/><rect x="163.8" y="227.31" width="0.7" height="0.7" fill="#777" opacity="0.51"/><rect x="166.23" y="221.95" width="0.7" height="0.7" fill="#111" opacity="0.31"/><rect x="163.83" y="218.34" width="0.7" height="0.7" fill="#333" opacity="0.28"/><rect x="180.74" y="215.66" width="0.7" height="0.7" fill="#999" opacity="0.56"/><rect x="176.9" y="212.99" width="0.7" height="0.7" fill="#777" opacity="0.43"/><rect x="181.29" y="239.73" width="0.7" height="0.7" fill="#333" opacity="0.59"/><rect x="167.91" y="235.76" width="0.7" height="0.7" fill="#555" opacity="0.69"/><rect x="160.25" y="226.28" width="0.7" height="0.7" fill="#555" opacity="0.32"/><rect x="180.44" y="239.64" width="0.7" height="0.7" fill="#555" opacity="0.28"/><rect x="179.2" y="240.21" width="0.7" height="0.7" fill="#555" opacity="0.59"/><rect x="191.63" y="233.65" width="0.7" height="0.7" fill="#555" opacity="0.33"/><rect x="193.09" y="229.08" width="0.7" height="0.7" fill="#555" opacity="0.59"/><rect x="188.84" y="233.92" width="0.7" height="0.7" fill="#999" opacity="0.69"/><rect x="192.93" y="223.71" width="0.7" height="0.7" fill="#999" opacity="0.59"/><rect x="179.16" y="213.75" width="0.7" height="0.7" fill="#777" opacity="0.54"/><rect x="192.22" y="230.86" width="0.7" height="0.7" fill="#777" opacity="0.45"/><rect x="188.69" y="224.57" width="0.7" height="0.7" fill="#111" opacity="0.28"/><rect x="178.41" y="237.21" width="0.7" height="0.7" fill="#777" opacity="0.53"/><rect x="179.4" y="212.92" width="0.7" height="0.7" fill="#111" opacity="0.29"/><rect x="174.75" y="239.9" width="0.7" height="0.7" fill="#111" opacity="0.50"/><rect x="165.95" y="221.05" width="0.7" height="0.7" fill="#999" opacity="0.44"/><rect x="170.74" y="219.45" width="0.7" height="0.7" fill="#333" opacity="0.37"/><rect x="181.39" y="212.63" width="0.7" height="0.7" fill="#333" opacity="0.34"/><rect x="176.05" y="241.81" width="0.7" height="0.7" fill="#555" opacity="0.61"/><rect x="170.79" y="239.84" width="0.7" height="0.7" fill="#333" opacity="0.53"/><rect x="173.11" y="218.29" width="0.7" height="0.7" fill="#999" opacity="0.69"/><rect x="194.08" y="223.26" width="0.7" height="0.7" fill="#777" opacity="0.47"/><rect x="190.15" y="222.6" width="0.7" height="0.7" fill="#777" opacity="0.50"/><rect x="165.56" y="223.32" width="0.7" height="0.7" fill="#999" opacity="0.27"/><rect x="161.34" y="220.31" width="0.7" height="0.7" fill="#111" opacity="0.31"/><rect x="161.13" y="221.75" width="0.7" height="0.7" fill="#111" opacity="0.66"/><rect x="159.83" y="228.29" width="0.7" height="0.7" fill="#999" opacity="0.56"/><rect x="176.82" y="218.34" width="0.7" height="0.7" fill="#111" opacity="0.45"/><rect x="165.54" y="233.24" width="0.7" height="0.7" fill="#777" opacity="0.49"/><rect x="180.84" y="220.81" width="0.7" height="0.7" fill="#333" opacity="0.44"/><rect x="166.89" y="238.47" width="0.7" height="0.7" fill="#333" opacity="0.51"/><rect x="167.34" y="241.52" width="0.7" height="0.7" fill="#111" opacity="0.31"/><rect x="188.11" y="229.74" width="0.7" height="0.7" fill="#777" opacity="0.57"/><rect x="192.16" y="233.09" width="0.7" height="0.7" fill="#333" opacity="0.56"/><rect x="192.3" y="223.35" width="0.7" height="0.7" fill="#777" opacity="0.43"/><rect x="185.78" y="215.82" width="0.7" height="0.7" fill="#111" opacity="0.23"/><rect x="185.83" y="206.37" width="0.7" height="0.7" fill="#999" opacity="0.24"/><rect x="179.16" y="236.86" width="0.7" height="0.7" fill="#777" opacity="0.50"/><rect x="178.87" y="238.68" width="0.7" height="0.7" fill="#777" opacity="0.43"/><rect x="189.9" y="229.9" width="0.7" height="0.7" fill="#333" opacity="0.51"/><rect x="165.4" y="242.92" width="0.7" height="0.7" fill="#999" opacity="0.37"/><rect x="182.63" y="238.66" width="0.7" height="0.7" fill="#999" opacity="0.37"/><rect x="162.17" y="227.68" width="0.7" height="0.7" fill="#333" opacity="0.50"/><rect x="175.17" y="246.17" width="0.7" height="0.7" fill="#333" opacity="0.60"/><rect x="180.26" y="240.95" width="0.7" height="0.7" fill="#999" opacity="0.66"/><rect x="166.64" y="223.15" width="0.7" height="0.7" fill="#333" opacity="0.34"/><rect x="180.44" y="212.53" width="0.7" height="0.7" fill="#777" opacity="0.37"/><rect x="191.28" y="228.11" width="0.7" height="0.7" fill="#333" opacity="0.35"/><rect x="187.34" y="226.76" width="0.7" height="0.7" fill="#999" opacity="0.58"/><rect x="175.05" y="215.3" width="0.7" height="0.7" fill="#111" opacity="0.32"/><rect x="165.32" y="229.25" width="0.7" height="0.7" fill="#999" opacity="0.36"/><rect x="160.36" y="235.83" width="0.7" height="0.7" fill="#999" opacity="0.48"/><rect x="171.14" y="239.4" width="0.7" height="0.7" fill="#333" opacity="0.32"/><rect x="186.06" y="209.73" width="0.7" height="0.7" fill="#555" opacity="0.50"/><rect x="176.49" y="237.53" width="0.7" height="0.7" fill="#111" opacity="0.25"/><rect x="188.81" y="233.4" width="0.7" height="0.7" fill="#333" opacity="0.33"/><rect x="166.61" y="218.9" width="0.7" height="0.7" fill="#999" opacity="0.68"/><rect x="183.83" y="236.5" width="0.7" height="0.7" fill="#999" opacity="0.38"/><rect x="163.08" y="225.77" width="0.7" height="0.7" fill="#999" opacity="0.52"/><rect x="183.56" y="215.93" width="0.7" height="0.7" fill="#999" opacity="0.40"/><rect x="161.39" y="243.33" width="0.7" height="0.7" fill="#333" opacity="0.29"/><rect x="187" y="215.27" width="0.7" height="0.7" fill="#111" opacity="0.62"/><rect x="190.55" y="221.14" width="0.7" height="0.7" fill="#777" opacity="0.23"/><rect x="189.4" y="227.99" width="0.7" height="0.7" fill="#555" opacity="0.49"/><rect x="163.85" y="243.7" width="0.7" height="0.7" fill="#777" opacity="0.36"/><rect x="182.73" y="237.64" width="0.7" height="0.7" fill="#111" opacity="0.43"/><rect x="185.97" y="212.9" width="0.7" height="0.7" fill="#333" opacity="0.66"/><rect x="189.85" y="236.51" width="0.7" height="0.7" fill="#333" opacity="0.59"/><rect x="189.34" y="214.44" width="0.7" height="0.7" fill="#777" opacity="0.62"/><rect x="163.24" y="225.65" width="0.7" height="0.7" fill="#777" opacity="0.26"/><rect x="169.37" y="239.39" width="0.7" height="0.7" fill="#777" opacity="0.48"/><rect x="189.9" y="229.85" width="0.7" height="0.7" fill="#555" opacity="0.37"/><rect x="187.82" y="235.51" width="0.7" height="0.7" fill="#111" opacity="0.28"/><rect x="162.43" y="235.82" width="0.7" height="0.7" fill="#999" opacity="0.44"/><rect x="180.78" y="241.87" width="0.7" height="0.7" fill="#555" opacity="0.70"/><rect x="186.68" y="213.65" width="0.7" height="0.7" fill="#111" opacity="0.62"/><rect x="184.94" y="219.02" width="0.7" height="0.7" fill="#999" opacity="0.37"/><rect x="195.92" y="228.41" width="0.7" height="0.7" fill="#333" opacity="0.38"/><rect x="188.07" y="221.98" width="0.7" height="0.7" fill="#333" opacity="0.46"/><rect x="186.24" y="234.67" width="0.7" height="0.7" fill="#999" opacity="0.57"/><rect x="170.35" y="218.54" width="0.7" height="0.7" fill="#333" opacity="0.49"/><rect x="185.38" y="234.56" width="0.7" height="0.7" fill="#555" opacity="0.37"/><rect x="179.49" y="213.19" width="0.7" height="0.7" fill="#777" opacity="0.25"/><rect x="171.75" y="237.21" width="0.7" height="0.7" fill="#333" opacity="0.29"/><rect x="177.35" y="215.99" width="0.7" height="0.7" fill="#999" opacity="0.63"/><rect x="171.37" y="247.04" width="0.7" height="0.7" fill="#555" opacity="0.59"/><rect x="182.32" y="211.46" width="0.7" height="0.7" fill="#111" opacity="0.35"/><rect x="184.72" y="226.14" width="0.7" height="0.7" fill="#333" opacity="0.68"/><rect x="187.07" y="236.71" width="0.7" height="0.7" fill="#111" opacity="0.21"/><rect x="185.37" y="215.7" width="0.7" height="0.7" fill="#999" opacity="0.43"/><rect x="183.43" y="236.12" width="0.7" height="0.7" fill="#333" opacity="0.22"/><rect x="193.16" y="228.93" width="0.7" height="0.7" fill="#333" opacity="0.47"/><rect x="180.4" y="236.05" width="0.7" height="0.7" fill="#777" opacity="0.28"/><rect x="171.98" y="215.77" width="0.7" height="0.7" fill="#777" opacity="0.69"/><rect x="188.69" y="226.12" width="0.7" height="0.7" fill="#777" opacity="0.62"/><rect x="158.38" y="233.16" width="0.7" height="0.7" fill="#333" opacity="0.68"/><rect x="182.89" y="219.63" width="0.7" height="0.7" fill="#555" opacity="0.25"/><rect x="188.25" y="231.22" width="0.7" height="0.7" fill="#333" opacity="0.27"/><rect x="189.44" y="215.6" width="0.7" height="0.7" fill="#777" opacity="0.52"/><rect x="171.5" y="212.67" width="0.7" height="0.7" fill="#999" opacity="0.34"/><rect x="160.84" y="233.82" width="0.7" height="0.7" fill="#999" opacity="0.25"/><rect x="191.64" y="228.45" width="0.7" height="0.7" fill="#333" opacity="0.26"/><rect x="165.57" y="228.19" width="0.7" height="0.7" fill="#999" opacity="0.65"/><rect x="194.03" y="227.56" width="0.7" height="0.7" fill="#777" opacity="0.49"/><rect x="183.43" y="238.92" width="0.7" height="0.7" fill="#999" opacity="0.34"/><rect x="164.52" y="238.83" width="0.7" height="0.7" fill="#999" opacity="0.35"/><rect x="165.9" y="236.78" width="0.7" height="0.7" fill="#111" opacity="0.32"/><rect x="187.75" y="234.85" width="0.7" height="0.7" fill="#111" opacity="0.66"/><rect x="188.76" y="229.21" width="0.7" height="0.7" fill="#555" opacity="0.48"/><rect x="159.73" y="236.93" width="0.7" height="0.7" fill="#111" opacity="0.50"/><rect x="174.76" y="247.14" width="0.7" height="0.7" fill="#999" opacity="0.39"/><rect x="162.91" y="240.93" width="0.7" height="0.7" fill="#333" opacity="0.41"/><rect x="164.75" y="226.24" width="0.7" height="0.7" fill="#555" opacity="0.61"/><rect x="166.11" y="233.24" width="0.7" height="0.7" fill="#777" opacity="0.33"/><rect x="160.53" y="225.28" width="0.7" height="0.7" fill="#333" opacity="0.41"/><rect x="191.25" y="230.62" width="0.7" height="0.7" fill="#333" opacity="0.41"/><rect x="174.12" y="214.85" width="0.7" height="0.7" fill="#999" opacity="0.26"/><rect x="177.63" y="217.45" width="0.7" height="0.7" fill="#999" opacity="0.39"/><rect x="178.36" y="239.4" width="0.7" height="0.7" fill="#777" opacity="0.39"/><rect x="178.34" y="243.16" width="0.7" height="0.7" fill="#555" opacity="0.36"/><rect x="179.53" y="213.97" width="0.7" height="0.7" fill="#555" opacity="0.30"/><rect x="166.39" y="240.11" width="0.7" height="0.7" fill="#999" opacity="0.59"/><rect x="165.77" y="231.93" width="0.7" height="0.7" fill="#999" opacity="0.61"/><rect x="163.76" y="220" width="0.7" height="0.7" fill="#111" opacity="0.54"/><rect x="161.92" y="235.91" width="0.7" height="0.7" fill="#999" opacity="0.66"/><rect x="184.62" y="234.28" width="0.7" height="0.7" fill="#999" opacity="0.37"/><rect x="162.68" y="234.09" width="0.7" height="0.7" fill="#333" opacity="0.38"/><rect x="169.41" y="241.8" width="0.7" height="0.7" fill="#555" opacity="0.61"/><rect x="189.83" y="217.19" width="0.7" height="0.7" fill="#777" opacity="0.52"/><rect x="165.37" y="233.19" width="0.7" height="0.7" fill="#777" opacity="0.29"/><rect x="164.18" y="225.54" width="0.7" height="0.7" fill="#555" opacity="0.48"/><rect x="165.51" y="229.79" width="0.7" height="0.7" fill="#999" opacity="0.20"/><rect x="180.41" y="241.2" width="0.7" height="0.7" fill="#999" opacity="0.21"/><rect x="192.6" y="218.82" width="0.7" height="0.7" fill="#999" opacity="0.46"/><rect x="190.15" y="229.5" width="0.7" height="0.7" fill="#999" opacity="0.58"/><rect x="191.9" y="225.15" width="0.7" height="0.7" fill="#777" opacity="0.51"/><rect x="176.27" y="219.59" width="0.7" height="0.7" fill="#555" opacity="0.27"/><rect x="184.5" y="233.85" width="0.7" height="0.7" fill="#999" opacity="0.23"/><rect x="187.89" y="231.44" width="0.7" height="0.7" fill="#111" opacity="0.23"/>
<g transform="translate(178,226.3) rotate(-35)"><ellipse cx="0" cy="0" rx="14.8" ry="10.9" fill="url(#dark)"/></g>
<g transform="translate(179.2,225.7) rotate(-35)"><ellipse cx="0" cy="0" rx="12.43" ry="9.16" fill="url(#core)"/></g>
<g transform="translate(90.85,299.75) rotate(40)"><ellipse cx="0" cy="0" rx="15.45" ry="19.74" fill="url(#halo)"/></g>
<rect x="106.63" y="296.81" width="0.7" height="0.7" fill="#111" opacity="0.28"/><rect x="91.32" y="287.51" width="0.7" height="0.7" fill="#777" opacity="0.35"/><rect x="92.85" y="284.17" width="0.7" height="0.7" fill="#333" opacity="0.54"/><rect x="98.29" y="286.14" width="0.7" height="0.7" fill="#777" opacity="0.35"/><rect x="109.13" y="295.75" width="0.7" height="0.7" fill="#333" opacity="0.20"/><rect x="102.19" y="297.44" width="0.7" height="0.7" fill="#777" opacity="0.37"/><rect x="97.18" y="283.58" width="0.7" height="0.7" fill="#999" opacity="0.32"/><rect x="86.69" y="310.49" width="0.7" height="0.7" fill="#111" opacity="0.37"/><rect x="84.17" y="310.56" width="0.7" height="0.7" fill="#777" opacity="0.43"/><rect x="101.89" y="290.64" width="0.7" height="0.7" fill="#777" opacity="0.39"/><rect x="104.72" y="302.33" width="0.7" height="0.7" fill="#333" opacity="0.63"/><rect x="100.88" y="278.87" width="0.7" height="0.7" fill="#555" opacity="0.50"/><rect x="76.49" y="296.03" width="0.7" height="0.7" fill="#111" opacity="0.54"/><rect x="95.63" y="308.86" width="0.7" height="0.7" fill="#777" opacity="0.21"/><rect x="100.69" y="287.48" width="0.7" height="0.7" fill="#333" opacity="0.59"/><rect x="79.04" y="309.29" width="0.7" height="0.7" fill="#555" opacity="0.60"/><rect x="101.45" y="290.48" width="0.7" height="0.7" fill="#777" opacity="0.34"/><rect x="78.75" y="299.24" width="0.7" height="0.7" fill="#333" opacity="0.67"/><rect x="88.47" y="313.82" width="0.7" height="0.7" fill="#777" opacity="0.21"/><rect x="93.62" y="284.44" width="0.7" height="0.7" fill="#111" opacity="0.29"/><rect x="93.99" y="313.88" width="0.7" height="0.7" fill="#111" opacity="0.40"/><rect x="87.08" y="285.48" width="0.7" height="0.7" fill="#111" opacity="0.48"/><rect x="91.14" y="285.08" width="0.7" height="0.7" fill="#777" opacity="0.54"/><rect x="90.96" y="287.34" width="0.7" height="0.7" fill="#111" opacity="0.62"/><rect x="103.3" y="289.76" width="0.7" height="0.7" fill="#999" opacity="0.55"/><rect x="103.06" y="303.12" width="0.7" height="0.7" fill="#111" opacity="0.60"/><rect x="79.45" y="315.36" width="0.7" height="0.7" fill="#999" opacity="0.61"/><rect x="74.33" y="310.35" width="0.7" height="0.7" fill="#555" opacity="0.55"/><rect x="102.64" y="288.82" width="0.7" height="0.7" fill="#777" opacity="0.54"/><rect x="108.74" y="292.21" width="0.7" height="0.7" fill="#777" opacity="0.58"/><rect x="94.83" y="311.6" width="0.7" height="0.7" fill="#333" opacity="0.47"/><rect x="78.64" y="314.64" width="0.7" height="0.7" fill="#333" opacity="0.52"/><rect x="86.38" y="311.14" width="0.7" height="0.7" fill="#777" opacity="0.27"/><rect x="96.3" y="283.51" width="0.7" height="0.7" fill="#333" opacity="0.64"/><rect x="91.74" y="312.49" width="0.7" height="0.7" fill="#999" opacity="0.41"/><rect x="104.56" y="300.72" width="0.7" height="0.7" fill="#333" opacity="0.50"/><rect x="82.21" y="296.02" width="0.7" height="0.7" fill="#333" opacity="0.22"/><rect x="109.75" y="297.76" width="0.7" height="0.7" fill="#111" opacity="0.28"/><rect x="82.4" y="295.48" width="0.7" height="0.7" fill="#111" opacity="0.21"/><rect x="102.3" y="304.47" width="0.7" height="0.7" fill="#111" opacity="0.57"/><rect x="83.33" y="303.91" width="0.7" height="0.7" fill="#777" opacity="0.44"/><rect x="102.62" y="288.65" width="0.7" height="0.7" fill="#555" opacity="0.51"/><rect x="103.86" y="300.41" width="0.7" height="0.7" fill="#777" opacity="0.62"/><rect x="77.01" y="310.36" width="0.7" height="0.7" fill="#333" opacity="0.25"/><rect x="96.11" y="287.44" width="0.7" height="0.7" fill="#333" opacity="0.38"/><rect x="81.14" y="287.11" width="0.7" height="0.7" fill="#111" opacity="0.25"/><rect x="115.06" y="283.75" width="0.7" height="0.7" fill="#777" opacity="0.45"/><rect x="84.52" y="317.09" width="0.7" height="0.7" fill="#333" opacity="0.28"/><rect x="79.59" y="296.56" width="0.7" height="0.7" fill="#555" opacity="0.20"/><rect x="104.87" y="293.43" width="0.7" height="0.7" fill="#999" opacity="0.41"/><rect x="79.97" y="309.72" width="0.7" height="0.7" fill="#333" opacity="0.65"/><rect x="85.97" y="315.3" width="0.7" height="0.7" fill="#555" opacity="0.48"/><rect x="77.89" y="295.23" width="0.7" height="0.7" fill="#333" opacity="0.69"/><rect x="103.69" y="302.26" width="0.7" height="0.7" fill="#111" opacity="0.56"/><rect x="78.12" y="307.38" width="0.7" height="0.7" fill="#333" opacity="0.35"/><rect x="79.79" y="304.66" width="0.7" height="0.7" fill="#111" opacity="0.62"/><rect x="82.23" y="311.19" width="0.7" height="0.7" fill="#777" opacity="0.38"/><rect x="80.6" y="313.88" width="0.7" height="0.7" fill="#333" opacity="0.47"/><rect x="89.76" y="311.71" width="0.7" height="0.7" fill="#777" opacity="0.31"/><rect x="83.43" y="294.55" width="0.7" height="0.7" fill="#111" opacity="0.57"/><rect x="110.04" y="298.16" width="0.7" height="0.7" fill="#777" opacity="0.27"/><rect x="85.34" y="290.73" width="0.7" height="0.7" fill="#111" opacity="0.51"/><rect x="105.91" y="302.99" width="0.7" height="0.7" fill="#999" opacity="0.29"/><rect x="103.17" y="301.9" width="0.7" height="0.7" fill="#111" opacity="0.27"/><rect x="104.91" y="290.25" width="0.7" height="0.7" fill="#333" opacity="0.43"/><rect x="85.97" y="310.51" width="0.7" height="0.7" fill="#333" opacity="0.48"/><rect x="105.47" y="298.88" width="0.7" height="0.7" fill="#555" opacity="0.60"/><rect x="100.25" y="287.82" width="0.7" height="0.7" fill="#999" opacity="0.57"/><rect x="103.46" y="301.01" width="0.7" height="0.7" fill="#111" opacity="0.38"/><rect x="82.62" y="304.61" width="0.7" height="0.7" fill="#111" opacity="0.66"/><rect x="90.94" y="289.18" width="0.7" height="0.7" fill="#111" opacity="0.60"/><rect x="82.58" y="292.65" width="0.7" height="0.7" fill="#555" opacity="0.64"/><rect x="89.99" y="287.46" width="0.7" height="0.7" fill="#555" opacity="0.67"/><rect x="101.38" y="309.38" width="0.7" height="0.7" fill="#111" opacity="0.60"/><rect x="100.37" y="308.21" width="0.7" height="0.7" fill="#777" opacity="0.62"/><rect x="107.08" y="304.33" width="0.7" height="0.7" fill="#777" opacity="0.40"/><rect x="103.91" y="298.66" width="0.7" height="0.7" fill="#999" opacity="0.51"/><rect x="87.42" y="309.99" width="0.7" height="0.7" fill="#777" opacity="0.37"/><rect x="79.26" y="294.28" width="0.7" height="0.7" fill="#333" opacity="0.43"/><rect x="101.34" y="306.46" width="0.7" height="0.7" fill="#555" opacity="0.39"/><rect x="98.42" y="310.3" width="0.7" height="0.7" fill="#999" opacity="0.68"/><rect x="96.9" y="306.74" width="0.7" height="0.7" fill="#333" opacity="0.59"/><rect x="88.76" y="288.26" width="0.7" height="0.7" fill="#333" opacity="0.54"/><rect x="81.85" y="307.01" width="0.7" height="0.7" fill="#555" opacity="0.45"/><rect x="95.16" y="285.9" width="0.7" height="0.7" fill="#555" opacity="0.64"/><rect x="106.28" y="287.63" width="0.7" height="0.7" fill="#333" opacity="0.60"/><rect x="102.16" y="304.86" width="0.7" height="0.7" fill="#777" opacity="0.40"/><rect x="81.67" y="299.68" width="0.7" height="0.7" fill="#333" opacity="0.49"/><rect x="91.99" y="310.12" width="0.7" height="0.7" fill="#555" opacity="0.24"/><rect x="87.99" y="312.09" width="0.7" height="0.7" fill="#999" opacity="0.29"/><rect x="91.01" y="285.67" width="0.7" height="0.7" fill="#777" opacity="0.56"/><rect x="104.28" y="299.16" width="0.7" height="0.7" fill="#555" opacity="0.65"/><rect x="82.63" y="309.46" width="0.7" height="0.7" fill="#333" opacity="0.22"/><rect x="84.07" y="295.67" width="0.7" height="0.7" fill="#555" opacity="0.63"/><rect x="96.57" y="285.28" width="0.7" height="0.7" fill="#999" opacity="0.22"/><rect x="98.11" y="312.59" width="0.7" height="0.7" fill="#999" opacity="0.37"/><rect x="92.34" y="311.18" width="0.7" height="0.7" fill="#555" opacity="0.66"/><rect x="79.36" y="315.28" width="0.7" height="0.7" fill="#777" opacity="0.50"/><rect x="106.65" y="289.09" width="0.7" height="0.7" fill="#111" opacity="0.51"/><rect x="72.63" y="307.47" width="0.7" height="0.7" fill="#777" opacity="0.64"/><rect x="97.28" y="309.75" width="0.7" height="0.7" fill="#555" opacity="0.28"/><rect x="98.2" y="311.37" width="0.7" height="0.7" fill="#555" opacity="0.61"/><rect x="79.95" y="297.23" width="0.7" height="0.7" fill="#999" opacity="0.49"/><rect x="86.21" y="309.68" width="0.7" height="0.7" fill="#777" opacity="0.58"/><rect x="104.86" y="288.26" width="0.7" height="0.7" fill="#777" opacity="0.48"/><rect x="77.93" y="303.64" width="0.7" height="0.7" fill="#555" opacity="0.27"/><rect x="103.61" y="307.81" width="0.7" height="0.7" fill="#555" opacity="0.28"/><rect x="86.77" y="289.96" width="0.7" height="0.7" fill="#999" opacity="0.27"/><rect x="91.18" y="312.39" width="0.7" height="0.7" fill="#333" opacity="0.65"/><rect x="104.77" y="295.54" width="0.7" height="0.7" fill="#333" opacity="0.46"/><rect x="82.41" y="302.95" width="0.7" height="0.7" fill="#333" opacity="0.52"/><rect x="79.91" y="304.53" width="0.7" height="0.7" fill="#777" opacity="0.31"/><rect x="101.08" y="290.36" width="0.7" height="0.7" fill="#555" opacity="0.23"/><rect x="82.65" y="291.86" width="0.7" height="0.7" fill="#333" opacity="0.22"/><rect x="97.61" y="307.51" width="0.7" height="0.7" fill="#555" opacity="0.35"/><rect x="98.25" y="305.83" width="0.7" height="0.7" fill="#555" opacity="0.68"/><rect x="85.18" y="310.91" width="0.7" height="0.7" fill="#555" opacity="0.54"/><rect x="87.8" y="289.87" width="0.7" height="0.7" fill="#333" opacity="0.63"/><rect x="101.49" y="283.63" width="0.7" height="0.7" fill="#555" opacity="0.54"/><rect x="97.84" y="290.81" width="0.7" height="0.7" fill="#555" opacity="0.28"/><rect x="102.53" y="286.77" width="0.7" height="0.7" fill="#111" opacity="0.41"/><rect x="96.01" y="285.98" width="0.7" height="0.7" fill="#777" opacity="0.64"/><rect x="103.87" y="304.13" width="0.7" height="0.7" fill="#111" opacity="0.22"/><rect x="83.21" y="292.24" width="0.7" height="0.7" fill="#111" opacity="0.22"/><rect x="106.01" y="296.99" width="0.7" height="0.7" fill="#333" opacity="0.46"/><rect x="96.84" y="307.16" width="0.7" height="0.7" fill="#999" opacity="0.45"/><rect x="94.23" y="311.52" width="0.7" height="0.7" fill="#555" opacity="0.69"/><rect x="107.8" y="293.19" width="0.7" height="0.7" fill="#333" opacity="0.57"/><rect x="83.69" y="309.79" width="0.7" height="0.7" fill="#777" opacity="0.59"/><rect x="102.44" y="302.01" width="0.7" height="0.7" fill="#777" opacity="0.47"/><rect x="88.25" y="287.05" width="0.7" height="0.7" fill="#555" opacity="0.40"/><rect x="67.12" y="311.16" width="0.7" height="0.7" fill="#777" opacity="0.64"/><rect x="103.25" y="292.39" width="0.7" height="0.7" fill="#999" opacity="0.56"/><rect x="103.53" y="305.24" width="0.7" height="0.7" fill="#111" opacity="0.24"/><rect x="89.88" y="284.67" width="0.7" height="0.7" fill="#777" opacity="0.47"/><rect x="82.73" y="305.46" width="0.7" height="0.7" fill="#111" opacity="0.44"/><rect x="96.76" y="284.01" width="0.7" height="0.7" fill="#777" opacity="0.32"/><rect x="95.02" y="286.76" width="0.7" height="0.7" fill="#777" opacity="0.38"/><rect x="98.2" y="309.88" width="0.7" height="0.7" fill="#555" opacity="0.24"/><rect x="104.13" y="290.71" width="0.7" height="0.7" fill="#999" opacity="0.58"/><rect x="77.64" y="312.57" width="0.7" height="0.7" fill="#333" opacity="0.23"/><rect x="104.95" y="284.9" width="0.7" height="0.7" fill="#555" opacity="0.32"/><rect x="89.66" y="311.36" width="0.7" height="0.7" fill="#111" opacity="0.36"/><rect x="79.94" y="302.94" width="0.7" height="0.7" fill="#777" opacity="0.26"/><rect x="84.67" y="311.56" width="0.7" height="0.7" fill="#777" opacity="0.53"/><rect x="79.89" y="308.57" width="0.7" height="0.7" fill="#777" opacity="0.57"/><rect x="85.85" y="312.4" width="0.7" height="0.7" fill="#999" opacity="0.39"/><rect x="83.22" y="304.03" width="0.7" height="0.7" fill="#999" opacity="0.33"/><rect x="92.13" y="286.83" width="0.7" height="0.7" fill="#555" opacity="0.32"/><rect x="103.03" y="294.29" width="0.7" height="0.7" fill="#333" opacity="0.26"/><rect x="104.16" y="302.12" width="0.7" height="0.7" fill="#777" opacity="0.39"/><rect x="101.28" y="310.96" width="0.7" height="0.7" fill="#777" opacity="0.42"/><rect x="93.48" y="287.66" width="0.7" height="0.7" fill="#333" opacity="0.66"/><rect x="87.9" y="312.03" width="0.7" height="0.7" fill="#999" opacity="0.39"/><rect x="97.54" y="286.48" width="0.7" height="0.7" fill="#777" opacity="0.40"/><rect x="82.72" y="298.15" width="0.7" height="0.7" fill="#111" opacity="0.25"/><rect x="80.7" y="285.73" width="0.7" height="0.7" fill="#111" opacity="0.42"/><rect x="85.02" y="291.94" width="0.7" height="0.7" fill="#111" opacity="0.54"/><rect x="102.16" y="287.75" width="0.7" height="0.7" fill="#999" opacity="0.37"/><rect x="82.07" y="303.23" width="0.7" height="0.7" fill="#999" opacity="0.61"/><rect x="95.3" y="313.54" width="0.7" height="0.7" fill="#111" opacity="0.61"/><rect x="79.82" y="314.34" width="0.7" height="0.7" fill="#777" opacity="0.62"/><rect x="92.18" y="310.51" width="0.7" height="0.7" fill="#555" opacity="0.37"/><rect x="79.22" y="291.99" width="0.7" height="0.7" fill="#555" opacity="0.24"/><rect x="74.47" y="303.07" width="0.7" height="0.7" fill="#555" opacity="0.35"/><rect x="107.14" y="294.57" width="0.7" height="0.7" fill="#999" opacity="0.33"/><rect x="82.5" y="315.07" width="0.7" height="0.7" fill="#999" opacity="0.27"/><rect x="101.22" y="302.46" width="0.7" height="0.7" fill="#111" opacity="0.56"/><rect x="105.3" y="309.37" width="0.7" height="0.7" fill="#111" opacity="0.34"/><rect x="100.84" y="291.45" width="0.7" height="0.7" fill="#999" opacity="0.51"/><rect x="81.81" y="301.89" width="0.7" height="0.7" fill="#111" opacity="0.22"/><rect x="101.95" y="294.93" width="0.7" height="0.7" fill="#999" opacity="0.57"/><rect x="90.46" y="310.71" width="0.7" height="0.7" fill="#333" opacity="0.47"/><rect x="89.66" y="315.19" width="0.7" height="0.7" fill="#333" opacity="0.46"/><rect x="83.11" y="297.48" width="0.7" height="0.7" fill="#777" opacity="0.54"/><rect x="85.16" y="311.29" width="0.7" height="0.7" fill="#777" opacity="0.35"/><rect x="85.07" y="310.99" width="0.7" height="0.7" fill="#333" opacity="0.35"/><rect x="84.48" y="308.92" width="0.7" height="0.7" fill="#333" opacity="0.28"/><rect x="103.66" y="291.15" width="0.7" height="0.7" fill="#333" opacity="0.53"/><rect x="98.06" y="287.59" width="0.7" height="0.7" fill="#555" opacity="0.54"/><rect x="94.06" y="310.01" width="0.7" height="0.7" fill="#999" opacity="0.46"/><rect x="76.78" y="309.03" width="0.7" height="0.7" fill="#111" opacity="0.30"/><rect x="83.53" y="307.81" width="0.7" height="0.7" fill="#333" opacity="0.27"/><rect x="81.62" y="310.5" width="0.7" height="0.7" fill="#333" opacity="0.49"/><rect x="81.29" y="307.14" width="0.7" height="0.7" fill="#555" opacity="0.23"/><rect x="80.68" y="306.77" width="0.7" height="0.7" fill="#333" opacity="0.25"/><rect x="100.12" y="292.43" width="0.7" height="0.7" fill="#333" opacity="0.50"/><rect x="76.76" y="293.65" width="0.7" height="0.7" fill="#333" opacity="0.41"/><rect x="109.27" y="291.06" width="0.7" height="0.7" fill="#555" opacity="0.28"/><rect x="98.64" y="304.15" width="0.7" height="0.7" fill="#777" opacity="0.35"/>
<g transform="translate(94,298.4) rotate(40)"><ellipse cx="0" cy="0" rx="10.3" ry="13.9" fill="url(#dark)"/></g>
<g transform="translate(95.6,297) rotate(40)"><ellipse cx="0" cy="0" rx="8.03" ry="10.84" fill="url(#core)"/></g>
<g transform="translate(176.15,299.1) rotate(-20)"><ellipse cx="0" cy="0" rx="19.8" ry="15.19" fill="url(#halo)"/></g>
<rect x="179.72" y="310.89" width="0.7" height="0.7" fill="#555" opacity="0.43"/><rect x="188.19" y="303.78" width="0.7" height="0.7" fill="#999" opacity="0.33"/><rect x="188.77" y="290.06" width="0.7" height="0.7" fill="#333" opacity="0.56"/><rect x="161.72" y="300.59" width="0.7" height="0.7" fill="#111" opacity="0.44"/><rect x="173.42" y="284.05" width="0.7" height="0.7" fill="#555" opacity="0.70"/><rect x="168.29" y="306.65" width="0.7" height="0.7" fill="#111" opacity="0.35"/><rect x="183.67" y="289.04" width="0.7" height="0.7" fill="#111" opacity="0.61"/><rect x="191.65" y="298.77" width="0.7" height="0.7" fill="#333" opacity="0.61"/><rect x="174.62" y="308.36" width="0.7" height="0.7" fill="#111" opacity="0.36"/><rect x="189.98" y="287.42" width="0.7" height="0.7" fill="#111" opacity="0.24"/><rect x="180.16" y="307.31" width="0.7" height="0.7" fill="#333" opacity="0.66"/><rect x="167.55" y="287.42" width="0.7" height="0.7" fill="#111" opacity="0.70"/><rect x="177.99" y="283.96" width="0.7" height="0.7" fill="#111" opacity="0.58"/><rect x="164.4" y="296.99" width="0.7" height="0.7" fill="#777" opacity="0.25"/><rect x="172.31" y="288.4" width="0.7" height="0.7" fill="#777" opacity="0.27"/><rect x="181.14" y="285.92" width="0.7" height="0.7" fill="#111" opacity="0.57"/><rect x="176.47" y="289.87" width="0.7" height="0.7" fill="#999" opacity="0.35"/><rect x="192.38" y="288.74" width="0.7" height="0.7" fill="#111" opacity="0.23"/><rect x="177.33" y="285.98" width="0.7" height="0.7" fill="#333" opacity="0.30"/><rect x="160.66" y="311.03" width="0.7" height="0.7" fill="#111" opacity="0.40"/><rect x="177.43" y="286.36" width="0.7" height="0.7" fill="#777" opacity="0.40"/><rect x="194.75" y="299.1" width="0.7" height="0.7" fill="#555" opacity="0.53"/><rect x="183.85" y="291.38" width="0.7" height="0.7" fill="#777" opacity="0.41"/><rect x="164.26" y="295.73" width="0.7" height="0.7" fill="#555" opacity="0.40"/><rect x="165.38" y="304.82" width="0.7" height="0.7" fill="#333" opacity="0.55"/><rect x="168.61" y="304.72" width="0.7" height="0.7" fill="#333" opacity="0.26"/><rect x="164.97" y="291.61" width="0.7" height="0.7" fill="#555" opacity="0.28"/><rect x="173.8" y="308.44" width="0.7" height="0.7" fill="#777" opacity="0.35"/><rect x="176.08" y="311.11" width="0.7" height="0.7" fill="#333" opacity="0.40"/><rect x="194.11" y="292.39" width="0.7" height="0.7" fill="#111" opacity="0.67"/><rect x="167.17" y="306.96" width="0.7" height="0.7" fill="#999" opacity="0.53"/><rect x="190.42" y="302.31" width="0.7" height="0.7" fill="#555" opacity="0.53"/><rect x="192.57" y="297.97" width="0.7" height="0.7" fill="#555" opacity="0.35"/><rect x="170.96" y="287.74" width="0.7" height="0.7" fill="#999" opacity="0.60"/><rect x="192.37" y="296.74" width="0.7" height="0.7" fill="#111" opacity="0.23"/><rect x="182.08" y="284.49" width="0.7" height="0.7" fill="#999" opacity="0.39"/><rect x="177.07" y="308.98" width="0.7" height="0.7" fill="#777" opacity="0.22"/><rect x="170.5" y="311.62" width="0.7" height="0.7" fill="#333" opacity="0.29"/><rect x="191.72" y="285.36" width="0.7" height="0.7" fill="#333" opacity="0.35"/><rect x="160.26" y="301.91" width="0.7" height="0.7" fill="#777" opacity="0.45"/><rect x="188.4" y="291.89" width="0.7" height="0.7" fill="#111" opacity="0.60"/><rect x="169.68" y="316.29" width="0.7" height="0.7" fill="#333" opacity="0.35"/><rect x="163.65" y="300.98" width="0.7" height="0.7" fill="#777" opacity="0.59"/><rect x="170.99" y="312.76" width="0.7" height="0.7" fill="#555" opacity="0.35"/><rect x="187.91" y="290.99" width="0.7" height="0.7" fill="#777" opacity="0.36"/><rect x="177.51" y="289.4" width="0.7" height="0.7" fill="#999" opacity="0.43"/><rect x="181.54" y="287.63" width="0.7" height="0.7" fill="#777" opacity="0.53"/><rect x="183.25" y="285.46" width="0.7" height="0.7" fill="#777" opacity="0.46"/><rect x="179.02" y="308.67" width="0.7" height="0.7" fill="#111" opacity="0.47"/><rect x="166.91" y="290.48" width="0.7" height="0.7" fill="#333" opacity="0.64"/><rect x="185.95" y="284.82" width="0.7" height="0.7" fill="#111" opacity="0.67"/><rect x="184.57" y="308.02" width="0.7" height="0.7" fill="#111" opacity="0.59"/><rect x="166.04" y="314.12" width="0.7" height="0.7" fill="#555" opacity="0.63"/><rect x="167.06" y="289.98" width="0.7" height="0.7" fill="#555" opacity="0.27"/><rect x="174.37" y="310.02" width="0.7" height="0.7" fill="#999" opacity="0.53"/><rect x="162.08" y="297.86" width="0.7" height="0.7" fill="#333" opacity="0.28"/><rect x="170.14" y="291.19" width="0.7" height="0.7" fill="#111" opacity="0.57"/><rect x="180.92" y="283.75" width="0.7" height="0.7" fill="#555" opacity="0.27"/><rect x="170.89" y="291.75" width="0.7" height="0.7" fill="#999" opacity="0.34"/><rect x="185.98" y="311.65" width="0.7" height="0.7" fill="#111" opacity="0.38"/><rect x="168.23" y="289.08" width="0.7" height="0.7" fill="#333" opacity="0.42"/><rect x="164.25" y="302.18" width="0.7" height="0.7" fill="#999" opacity="0.48"/><rect x="178.39" y="284.82" width="0.7" height="0.7" fill="#555" opacity="0.68"/><rect x="161.81" y="303.82" width="0.7" height="0.7" fill="#555" opacity="0.62"/><rect x="179.43" y="286.65" width="0.7" height="0.7" fill="#111" opacity="0.61"/><rect x="174.72" y="308.23" width="0.7" height="0.7" fill="#111" opacity="0.49"/><rect x="163.15" y="314.24" width="0.7" height="0.7" fill="#555" opacity="0.68"/><rect x="175.87" y="307.5" width="0.7" height="0.7" fill="#111" opacity="0.52"/><rect x="158.44" y="296.38" width="0.7" height="0.7" fill="#999" opacity="0.43"/><rect x="171.52" y="311.82" width="0.7" height="0.7" fill="#333" opacity="0.24"/><rect x="189.07" y="283.96" width="0.7" height="0.7" fill="#333" opacity="0.59"/><rect x="185.28" y="305.11" width="0.7" height="0.7" fill="#555" opacity="0.57"/><rect x="192.09" y="287.62" width="0.7" height="0.7" fill="#111" opacity="0.38"/><rect x="168.37" y="307.22" width="0.7" height="0.7" fill="#999" opacity="0.33"/><rect x="173.17" y="309.12" width="0.7" height="0.7" fill="#555" opacity="0.25"/><rect x="172.85" y="285.24" width="0.7" height="0.7" fill="#777" opacity="0.65"/><rect x="178.21" y="289.77" width="0.7" height="0.7" fill="#777" opacity="0.44"/><rect x="188.27" y="302.62" width="0.7" height="0.7" fill="#333" opacity="0.62"/><rect x="162.86" y="304.2" width="0.7" height="0.7" fill="#333" opacity="0.56"/><rect x="190.7" y="288.3" width="0.7" height="0.7" fill="#777" opacity="0.59"/><rect x="170.88" y="286.58" width="0.7" height="0.7" fill="#999" opacity="0.47"/><rect x="196.46" y="293.49" width="0.7" height="0.7" fill="#111" opacity="0.43"/><rect x="191.53" y="298.38" width="0.7" height="0.7" fill="#777" opacity="0.44"/><rect x="164.87" y="296.22" width="0.7" height="0.7" fill="#777" opacity="0.64"/><rect x="191.91" y="304.66" width="0.7" height="0.7" fill="#777" opacity="0.58"/><rect x="160.91" y="297.02" width="0.7" height="0.7" fill="#777" opacity="0.28"/><rect x="163.68" y="289.19" width="0.7" height="0.7" fill="#777" opacity="0.55"/><rect x="155.05" y="309.8" width="0.7" height="0.7" fill="#111" opacity="0.55"/><rect x="178.72" y="287.2" width="0.7" height="0.7" fill="#333" opacity="0.52"/><rect x="173.88" y="292.99" width="0.7" height="0.7" fill="#111" opacity="0.22"/><rect x="186.51" y="300.57" width="0.7" height="0.7" fill="#999" opacity="0.66"/><rect x="182.37" y="316.99" width="0.7" height="0.7" fill="#111" opacity="0.58"/><rect x="185.29" y="286.91" width="0.7" height="0.7" fill="#999" opacity="0.46"/><rect x="190.29" y="299.92" width="0.7" height="0.7" fill="#777" opacity="0.66"/><rect x="192.25" y="292.44" width="0.7" height="0.7" fill="#999" opacity="0.48"/><rect x="164.4" y="293.6" width="0.7" height="0.7" fill="#999" opacity="0.24"/><rect x="192.85" y="299.87" width="0.7" height="0.7" fill="#111" opacity="0.29"/><rect x="166.28" y="301.23" width="0.7" height="0.7" fill="#333" opacity="0.26"/><rect x="162.51" y="294.55" width="0.7" height="0.7" fill="#555" opacity="0.54"/><rect x="187.91" y="303.71" width="0.7" height="0.7" fill="#111" opacity="0.38"/><rect x="177.88" y="307.31" width="0.7" height="0.7" fill="#555" opacity="0.58"/><rect x="191" y="296.32" width="0.7" height="0.7" fill="#999" opacity="0.31"/><rect x="167.81" y="312.66" width="0.7" height="0.7" fill="#333" opacity="0.66"/><rect x="173.59" y="288.13" width="0.7" height="0.7" fill="#111" opacity="0.62"/><rect x="170.3" y="285.6" width="0.7" height="0.7" fill="#777" opacity="0.60"/><rect x="191.06" y="296.46" width="0.7" height="0.7" fill="#555" opacity="0.42"/><rect x="170.24" y="290.11" width="0.7" height="0.7" fill="#777" opacity="0.28"/><rect x="190.35" y="288.7" width="0.7" height="0.7" fill="#777" opacity="0.58"/><rect x="181.43" y="284.32" width="0.7" height="0.7" fill="#111" opacity="0.37"/><rect x="161.65" y="298.78" width="0.7" height="0.7" fill="#333" opacity="0.64"/><rect x="178.31" y="286.07" width="0.7" height="0.7" fill="#555" opacity="0.41"/><rect x="174.6" y="309.63" width="0.7" height="0.7" fill="#333" opacity="0.47"/><rect x="157.11" y="292.17" width="0.7" height="0.7" fill="#111" opacity="0.52"/><rect x="184.81" y="306.77" width="0.7" height="0.7" fill="#111" opacity="0.56"/><rect x="164.76" y="308.93" width="0.7" height="0.7" fill="#999" opacity="0.54"/><rect x="167.62" y="286.8" width="0.7" height="0.7" fill="#777" opacity="0.32"/><rect x="180.94" y="315.48" width="0.7" height="0.7" fill="#999" opacity="0.27"/><rect x="188.51" y="297.83" width="0.7" height="0.7" fill="#111" opacity="0.47"/><rect x="193.93" y="297.83" width="0.7" height="0.7" fill="#999" opacity="0.54"/><rect x="180.31" y="308.56" width="0.7" height="0.7" fill="#333" opacity="0.65"/><rect x="176.53" y="314.16" width="0.7" height="0.7" fill="#777" opacity="0.37"/><rect x="176.87" y="285.6" width="0.7" height="0.7" fill="#333" opacity="0.60"/><rect x="164.68" y="292" width="0.7" height="0.7" fill="#999" opacity="0.36"/><rect x="177.98" y="311.07" width="0.7" height="0.7" fill="#111" opacity="0.39"/><rect x="167.36" y="295.33" width="0.7" height="0.7" fill="#333" opacity="0.67"/><rect x="173.74" y="307.84" width="0.7" height="0.7" fill="#333" opacity="0.27"/><rect x="177.84" y="287.52" width="0.7" height="0.7" fill="#111" opacity="0.64"/><rect x="183.72" y="291" width="0.7" height="0.7" fill="#111" opacity="0.31"/><rect x="181.91" y="307.08" width="0.7" height="0.7" fill="#111" opacity="0.23"/><rect x="167.23" y="289.95" width="0.7" height="0.7" fill="#333" opacity="0.34"/><rect x="166.4" y="303.69" width="0.7" height="0.7" fill="#777" opacity="0.25"/><rect x="187.95" y="301.55" width="0.7" height="0.7" fill="#777" opacity="0.23"/><rect x="183.74" y="304.76" width="0.7" height="0.7" fill="#999" opacity="0.31"/><rect x="173.46" y="285.42" width="0.7" height="0.7" fill="#777" opacity="0.26"/><rect x="184.67" y="289.79" width="0.7" height="0.7" fill="#111" opacity="0.44"/><rect x="167.73" y="303.27" width="0.7" height="0.7" fill="#333" opacity="0.24"/><rect x="167.83" y="304.39" width="0.7" height="0.7" fill="#555" opacity="0.23"/><rect x="169.26" y="290.81" width="0.7" height="0.7" fill="#999" opacity="0.65"/><rect x="168.6" y="292.58" width="0.7" height="0.7" fill="#777" opacity="0.53"/><rect x="186.47" y="306.22" width="0.7" height="0.7" fill="#555" opacity="0.57"/><rect x="183.43" y="286.22" width="0.7" height="0.7" fill="#111" opacity="0.42"/><rect x="178.39" y="286.8" width="0.7" height="0.7" fill="#555" opacity="0.57"/><rect x="163.77" y="296" width="0.7" height="0.7" fill="#111" opacity="0.38"/><rect x="164.11" y="306.91" width="0.7" height="0.7" fill="#777" opacity="0.54"/><rect x="183.35" y="310.23" width="0.7" height="0.7" fill="#555" opacity="0.31"/><rect x="187.13" y="292.13" width="0.7" height="0.7" fill="#111" opacity="0.48"/><rect x="171.58" y="290.32" width="0.7" height="0.7" fill="#777" opacity="0.48"/><rect x="167.64" y="285.43" width="0.7" height="0.7" fill="#777" opacity="0.27"/><rect x="192.14" y="303.23" width="0.7" height="0.7" fill="#111" opacity="0.28"/><rect x="164.66" y="309.35" width="0.7" height="0.7" fill="#555" opacity="0.64"/><rect x="159.74" y="290.94" width="0.7" height="0.7" fill="#111" opacity="0.42"/><rect x="181.19" y="281.43" width="0.7" height="0.7" fill="#555" opacity="0.24"/><rect x="172.85" y="288.9" width="0.7" height="0.7" fill="#999" opacity="0.49"/><rect x="164.35" y="308.43" width="0.7" height="0.7" fill="#555" opacity="0.65"/><rect x="188.92" y="290.97" width="0.7" height="0.7" fill="#999" opacity="0.39"/><rect x="183.47" y="286.62" width="0.7" height="0.7" fill="#333" opacity="0.41"/><rect x="188.52" y="290.76" width="0.7" height="0.7" fill="#111" opacity="0.51"/><rect x="161.99" y="306.13" width="0.7" height="0.7" fill="#111" opacity="0.42"/><rect x="175.03" y="307.63" width="0.7" height="0.7" fill="#777" opacity="0.68"/><rect x="174.52" y="284.63" width="0.7" height="0.7" fill="#333" opacity="0.47"/><rect x="164.53" y="310.65" width="0.7" height="0.7" fill="#777" opacity="0.58"/><rect x="191.14" y="303.67" width="0.7" height="0.7" fill="#111" opacity="0.45"/><rect x="183.91" y="286.82" width="0.7" height="0.7" fill="#999" opacity="0.38"/><rect x="169.15" y="289.83" width="0.7" height="0.7" fill="#111" opacity="0.54"/><rect x="177.2" y="286.45" width="0.7" height="0.7" fill="#555" opacity="0.62"/><rect x="167.91" y="292.37" width="0.7" height="0.7" fill="#999" opacity="0.68"/><rect x="180.46" y="307.57" width="0.7" height="0.7" fill="#999" opacity="0.22"/><rect x="187.14" y="286.33" width="0.7" height="0.7" fill="#777" opacity="0.56"/><rect x="175.96" y="307.11" width="0.7" height="0.7" fill="#333" opacity="0.29"/><rect x="185.62" y="288.6" width="0.7" height="0.7" fill="#333" opacity="0.21"/><rect x="194.95" y="304.88" width="0.7" height="0.7" fill="#555" opacity="0.35"/><rect x="173.79" y="285.36" width="0.7" height="0.7" fill="#555" opacity="0.23"/><rect x="190.51" y="298.42" width="0.7" height="0.7" fill="#555" opacity="0.27"/><rect x="181.1" y="287.47" width="0.7" height="0.7" fill="#999" opacity="0.66"/><rect x="164.83" y="297.8" width="0.7" height="0.7" fill="#777" opacity="0.35"/><rect x="190.06" y="296.29" width="0.7" height="0.7" fill="#111" opacity="0.49"/><rect x="186.54" y="305.3" width="0.7" height="0.7" fill="#333" opacity="0.51"/><rect x="179.06" y="282.08" width="0.7" height="0.7" fill="#999" opacity="0.31"/><rect x="183.2" y="282.57" width="0.7" height="0.7" fill="#999" opacity="0.47"/><rect x="168.32" y="288.94" width="0.7" height="0.7" fill="#555" opacity="0.31"/><rect x="165.95" y="292.46" width="0.7" height="0.7" fill="#555" opacity="0.27"/><rect x="188.61" y="300.34" width="0.7" height="0.7" fill="#555" opacity="0.40"/><rect x="162.97" y="302.09" width="0.7" height="0.7" fill="#333" opacity="0.28"/><rect x="191.6" y="286.08" width="0.7" height="0.7" fill="#777" opacity="0.22"/><rect x="176.39" y="308.29" width="0.7" height="0.7" fill="#777" opacity="0.46"/><rect x="175.79" y="284.95" width="0.7" height="0.7" fill="#777" opacity="0.23"/><rect x="179.17" y="284.07" width="0.7" height="0.7" fill="#777" opacity="0.59"/><rect x="167.33" y="311.4" width="0.7" height="0.7" fill="#999" opacity="0.23"/><rect x="170.16" y="286.68" width="0.7" height="0.7" fill="#999" opacity="0.26"/><rect x="164.43" y="305.37" width="0.7" height="0.7" fill="#555" opacity="0.53"/>
<g transform="translate(178.4,297.3) rotate(-20)"><ellipse cx="0" cy="0" rx="13.2" ry="10.7" fill="url(#dark)"/></g>
<g transform="translate(179.2,296.9) rotate(-20)"><ellipse cx="0" cy="0" rx="11.09" ry="8.99" fill="url(#core)"/></g>
<text x="69.5" y="267.3" font-size="9.7" fill="#111">HD</text>
<text x="67.8" y="342.2" font-size="10" fill="#111">AA</text>
<text x="195.8" y="218.6" font-size="9.6" fill="#111">92.5%</text>
<text x="197.5" y="293.2" font-size="9.6" fill="#111">96.4%</text>
<text x="97.7" y="367.8" font-size="9.7" text-anchor="middle" fill="#111">CD4</text>
<text x="181.7" y="367.8" font-size="9.7" text-anchor="middle" fill="#111">FOXP3</text>
<text transform="translate(47.3,274.5) rotate(-90)" font-size="9.9" text-anchor="middle" fill="#111">CD25</text>
<text x="243.6" y="206.8" font-size="12.4" font-weight="bold" fill="#000" style="stroke-width:0">C</text>
<text x="358.7" y="235.2" font-size="9.7" text-anchor="middle" fill="#111">Fold change post expansion</text>
<path d="M278.5,241.49 V353.2 H439" fill="none" stroke="#111" stroke-width="1.25"/>
<text x="272.3" y="356.1" font-size="8" text-anchor="end" fill="#111">0</text>
<text x="272.3" y="334.7" font-size="8" text-anchor="end" fill="#111">50</text>
<text x="272.3" y="313.3" font-size="8" text-anchor="end" fill="#111">100</text>
<text x="272.3" y="291.9" font-size="8" text-anchor="end" fill="#111">150</text>
<text x="272.3" y="270.5" font-size="8" text-anchor="end" fill="#111">200</text>
<text x="272.3" y="249.1" font-size="8" text-anchor="end" fill="#111">250</text>
<path d="M274.8,353.2 H278.5 M274.8,331.8 H278.5 M274.8,310.4 H278.5 M274.8,289 H278.5 M274.8,267.6 H278.5 M274.8,246.2 H278.5 M318.8,353.2 v3 M398.8,353.2 v3" stroke="#111" stroke-width="1.1"/>
<rect x="291.7" y="320.24" width="54.5" height="32.96" fill="#6bab3e"/>
<path d="M318.8,320.24 V290.5 M304.6,290.5 H332.6" stroke="#6bab3e" stroke-width="1.3"/>
<rect x="372.2" y="303.98" width="53.3" height="49.22" fill="#a9083b"/>
<path d="M398.8,303.98 V270.17 M384.6,270.17 H413" stroke="#a9083b" stroke-width="1.3"/>
<text x="318.8" y="367" font-size="8.5" text-anchor="middle" fill="#111">HD</text>
<text x="398.8" y="367" font-size="8.5" text-anchor="middle" fill="#111">AA</text>
<text transform="translate(251.3,297) rotate(-90) scale(0.8,1)" font-size="10.5" text-anchor="middle" fill="#111">Fold increase</text>
<rect x="448.6" y="249" width="14.5" height="8.7" fill="#6bab3e"/>
<rect x="448.6" y="261.7" width="14.5" height="8.9" fill="#a9083b"/>
<text x="466" y="256.6" font-size="8" fill="#111">HD</text>
<text x="466" y="269.8" font-size="8" fill="#111">AA</text>
<text x="7.1" y="396.1" font-size="12.4" font-weight="bold" fill="#000">D</text>
<text transform="translate(37.7,505.5) scale(1.0,1)" font-size="8.2" text-anchor="end" fill="#111" stroke="#111" stroke-width="0.15">0</text>
<text transform="translate(37.7,480.4) scale(1.0,1)" font-size="8.2" text-anchor="end" fill="#111" stroke="#111" stroke-width="0.15">1000</text>
<text transform="translate(37.7,454.7) scale(1.0,1)" font-size="8.2" text-anchor="end" fill="#111" stroke="#111" stroke-width="0.15">2000</text>
<text transform="translate(37.7,428.8) scale(1.0,1)" font-size="8.2" text-anchor="end" fill="#111" stroke="#111" stroke-width="0.15">3000</text>
<path d="M40.6,502.6 H43.8 M42.2,496.33 H43.8 M42.2,490.05 H43.8 M42.2,483.77 H43.8 M40.6,477.5 H43.8 M42.2,471.07 H43.8 M42.2,464.65 H43.8 M42.2,458.23 H43.8 M40.6,451.8 H43.8 M42.2,445.32 H43.8 M42.2,438.85 H43.8 M42.2,432.38 H43.8 M40.6,425.9 H43.8 M42.2,419.62 H43.8 M42.2,413.35 H43.8 M42.2,407.08 H43.8 M61.3,502.8 v3 M79.8,502.8 v3 M102.3,502.8 v3 M122.3,502.8 v3 M48.8,502.8 v2 M53.8,502.8 v2 M67.3,502.8 v1.6 M72.3,502.8 v1.6 M75.8,502.8 v1.6 M86.57,502.8 v1.6 M108.32,502.8 v1.6 M128.32,502.8 v1.6 M90.54,502.8 v1.6 M111.84,502.8 v1.6 M131.84,502.8 v1.6 M93.35,502.8 v1.6 M114.34,502.8 v1.6 M95.53,502.8 v1.6 M116.28,502.8 v1.6 M97.31,502.8 v1.6 M117.86,502.8 v1.6 M98.81,502.8 v1.6 M119.2,502.8 v1.6 M100.12,502.8 v1.6 M120.36,502.8 v1.6 M101.27,502.8 v1.6 M121.38,502.8 v1.6" stroke="#222" stroke-width="0.9"/>
<text transform="translate(61.9,514.2) scale(0.85,1)" font-size="8.3" text-anchor="middle" fill="#111" stroke="#111" stroke-width="0.18">0</text>
<text transform="translate(78.5,514.2) scale(0.82,1)" font-size="8.3" text-anchor="middle" fill="#111" stroke="#111" stroke-width="0.18">10</text>
<text transform="translate(82.2,510.8) scale(0.85,1)" font-size="6.2" text-anchor="start" fill="#111">3</text>
<text transform="translate(102.2,514.2) scale(0.82,1)" font-size="8.3" text-anchor="middle" fill="#111" stroke="#111" stroke-width="0.18">10</text>
<text transform="translate(105.9,510.8) scale(0.85,1)" font-size="6.2" text-anchor="start" fill="#111">4</text>
<text transform="translate(122.2,514.2) scale(0.82,1)" font-size="8.3" text-anchor="middle" fill="#111" stroke="#111" stroke-width="0.18">10</text>
<text transform="translate(125.9,510.8) scale(0.85,1)" font-size="6.2" text-anchor="start" fill="#111">5</text>
<text transform="translate(14.4,453.55) rotate(-90) scale(0.79,1)" font-size="11" text-anchor="middle" fill="#111" stroke="#111" stroke-width="0.15">Count</text>
<text transform="translate(88.4,525.8) scale(0.8,1)" font-size="10.6" text-anchor="middle" fill="#111" stroke="#111" stroke-width="0.15">Comp-V450-A:: VPD</text>
<text transform="translate(169.1,505.5) scale(1.0,1)" font-size="8.2" text-anchor="end" fill="#111" stroke="#111" stroke-width="0.15">0</text>
<text transform="translate(169.1,478.8) scale(1.0,1)" font-size="8.2" text-anchor="end" fill="#111" stroke="#111" stroke-width="0.15">500</text>
<text transform="translate(169.1,452.2) scale(1.0,1)" font-size="8.2" text-anchor="end" fill="#111" stroke="#111" stroke-width="0.15">1000</text>
<text transform="translate(169.1,425.7) scale(1.0,1)" font-size="8.2" text-anchor="end" fill="#111" stroke="#111" stroke-width="0.15">1500</text>
<path d="M172,502.6 H175.2 M173.6,497.26 H175.2 M173.6,491.92 H175.2 M173.6,486.58 H175.2 M173.6,481.24 H175.2 M172,475.9 H175.2 M173.6,470.58 H175.2 M173.6,465.26 H175.2 M173.6,459.94 H175.2 M173.6,454.62 H175.2 M172,449.3 H175.2 M173.6,444 H175.2 M173.6,438.7 H175.2 M173.6,433.4 H175.2 M173.6,428.1 H175.2 M172,422.8 H175.2 M173.6,417.46 H175.2 M173.6,412.12 H175.2 M173.6,406.78 H175.2 M192.7,502.8 v3 M211.2,502.8 v3 M233.7,502.8 v3 M253.7,502.8 v3 M180.2,502.8 v2 M185.2,502.8 v2 M198.7,502.8 v1.6 M203.7,502.8 v1.6 M207.2,502.8 v1.6 M217.97,502.8 v1.6 M239.72,502.8 v1.6 M259.72,502.8 v1.6 M221.94,502.8 v1.6 M243.24,502.8 v1.6 M224.75,502.8 v1.6 M245.74,502.8 v1.6 M226.93,502.8 v1.6 M247.68,502.8 v1.6 M228.71,502.8 v1.6 M249.26,502.8 v1.6 M230.21,502.8 v1.6 M250.6,502.8 v1.6 M231.52,502.8 v1.6 M251.76,502.8 v1.6 M232.67,502.8 v1.6 M252.78,502.8 v1.6" stroke="#222" stroke-width="0.9"/>
<text transform="translate(193.3,514.2) scale(0.85,1)" font-size="8.3" text-anchor="middle" fill="#111" stroke="#111" stroke-width="0.18">0</text>
<text transform="translate(209.9,514.2) scale(0.82,1)" font-size="8.3" text-anchor="middle" fill="#111" stroke="#111" stroke-width="0.18">10</text>
<text transform="translate(213.6,510.8) scale(0.85,1)" font-size="6.2" text-anchor="start" fill="#111">3</text>
<text transform="translate(233.6,514.2) scale(0.82,1)" font-size="8.3" text-anchor="middle" fill="#111" stroke="#111" stroke-width="0.18">10</text>
<text transform="translate(237.3,510.8) scale(0.85,1)" font-size="6.2" text-anchor="start" fill="#111">4</text>
<text transform="translate(253.6,514.2) scale(0.82,1)" font-size="8.3" text-anchor="middle" fill="#111" stroke="#111" stroke-width="0.18">10</text>
<text transform="translate(257.3,510.8) scale(0.85,1)" font-size="6.2" text-anchor="start" fill="#111">5</text>
<text transform="translate(145.8,453.55) rotate(-90) scale(0.79,1)" font-size="11" text-anchor="middle" fill="#111" stroke="#111" stroke-width="0.15">Count</text>
<text transform="translate(219.4,525.8) scale(0.8,1)" font-size="10.6" text-anchor="middle" fill="#111" stroke="#111" stroke-width="0.15">Comp-V450-A:: VPD</text>
<text transform="translate(296.2,505.5) scale(1.0,1)" font-size="8.2" text-anchor="end" fill="#111" stroke="#111" stroke-width="0.15">0</text>
<text transform="translate(296.2,477.4) scale(1.0,1)" font-size="8.2" text-anchor="end" fill="#111" stroke="#111" stroke-width="0.15">50</text>
<text transform="translate(296.2,449.4) scale(1.0,1)" font-size="8.2" text-anchor="end" fill="#111" stroke="#111" stroke-width="0.15">100</text>
<text transform="translate(296.2,421.3) scale(1.0,1)" font-size="8.2" text-anchor="end" fill="#111" stroke="#111" stroke-width="0.15">150</text>
<path d="M299.1,502.6 H302.3 M300.7,496.98 H302.3 M300.7,491.36 H302.3 M300.7,485.74 H302.3 M300.7,480.12 H302.3 M299.1,474.5 H302.3 M300.7,468.9 H302.3 M300.7,463.3 H302.3 M300.7,457.7 H302.3 M300.7,452.1 H302.3 M299.1,446.5 H302.3 M300.7,440.88 H302.3 M300.7,435.26 H302.3 M300.7,429.64 H302.3 M300.7,424.02 H302.3 M299.1,418.4 H302.3 M300.7,412.78 H302.3 M300.7,407.16 H302.3 M319.8,502.8 v3 M338.3,502.8 v3 M360.8,502.8 v3 M380.8,502.8 v3 M307.3,502.8 v2 M312.3,502.8 v2 M325.8,502.8 v1.6 M330.8,502.8 v1.6 M334.3,502.8 v1.6 M345.07,502.8 v1.6 M366.82,502.8 v1.6 M386.82,502.8 v1.6 M349.04,502.8 v1.6 M370.34,502.8 v1.6 M390.34,502.8 v1.6 M351.85,502.8 v1.6 M372.84,502.8 v1.6 M354.03,502.8 v1.6 M374.78,502.8 v1.6 M355.81,502.8 v1.6 M376.36,502.8 v1.6 M357.31,502.8 v1.6 M377.7,502.8 v1.6 M358.62,502.8 v1.6 M378.86,502.8 v1.6 M359.77,502.8 v1.6 M379.88,502.8 v1.6" stroke="#222" stroke-width="0.9"/>
<text transform="translate(320.4,514.2) scale(0.85,1)" font-size="8.3" text-anchor="middle" fill="#111" stroke="#111" stroke-width="0.18">0</text>
<text transform="translate(337,514.2) scale(0.82,1)" font-size="8.3" text-anchor="middle" fill="#111" stroke="#111" stroke-width="0.18">10</text>
<text transform="translate(340.7,510.8) scale(0.85,1)" font-size="6.2" text-anchor="start" fill="#111">3</text>
<text transform="translate(360.7,514.2) scale(0.82,1)" font-size="8.3" text-anchor="middle" fill="#111" stroke="#111" stroke-width="0.18">10</text>
<text transform="translate(364.4,510.8) scale(0.85,1)" font-size="6.2" text-anchor="start" fill="#111">4</text>
<text transform="translate(380.7,514.2) scale(0.82,1)" font-size="8.3" text-anchor="middle" fill="#111" stroke="#111" stroke-width="0.18">10</text>
<text transform="translate(384.4,510.8) scale(0.85,1)" font-size="6.2" text-anchor="start" fill="#111">5</text>
<text transform="translate(277.4,453.55) rotate(-90) scale(0.79,1)" font-size="11" text-anchor="middle" fill="#111" stroke="#111" stroke-width="0.15">Count</text>
<text transform="translate(346.8,525.8) scale(0.8,1)" font-size="10.6" text-anchor="middle" fill="#111" stroke="#111" stroke-width="0.15">Comp-V450-A:: VPD</text>
<text transform="translate(417.8,505.5) scale(1.0,1)" font-size="8.2" text-anchor="end" fill="#111" stroke="#111" stroke-width="0.15">0</text>
<text transform="translate(417.8,479) scale(1.0,1)" font-size="8.2" text-anchor="end" fill="#111" stroke="#111" stroke-width="0.15">10</text>
<text transform="translate(417.8,452.6) scale(1.0,1)" font-size="8.2" text-anchor="end" fill="#111" stroke="#111" stroke-width="0.15">20</text>
<text transform="translate(417.8,426.1) scale(1.0,1)" font-size="8.2" text-anchor="end" fill="#111" stroke="#111" stroke-width="0.15">30</text>
<path d="M420.7,502.6 H423.9 M422.3,495.98 H423.9 M422.3,489.35 H423.9 M422.3,482.73 H423.9 M420.7,476.1 H423.9 M422.3,469.5 H423.9 M422.3,462.9 H423.9 M422.3,456.3 H423.9 M420.7,449.7 H423.9 M422.3,443.07 H423.9 M422.3,436.45 H423.9 M422.3,429.82 H423.9 M420.7,423.2 H423.9 M422.3,416.57 H423.9 M422.3,409.95 H423.9 M441.4,502.8 v3 M459.9,502.8 v3 M482.4,502.8 v3 M502.4,502.8 v3 M428.9,502.8 v2 M433.9,502.8 v2 M447.4,502.8 v1.6 M452.4,502.8 v1.6 M455.9,502.8 v1.6 M466.67,502.8 v1.6 M488.42,502.8 v1.6 M508.42,502.8 v1.6 M470.64,502.8 v1.6 M491.94,502.8 v1.6 M511.94,502.8 v1.6 M473.45,502.8 v1.6 M494.44,502.8 v1.6 M475.63,502.8 v1.6 M496.38,502.8 v1.6 M477.41,502.8 v1.6 M497.96,502.8 v1.6 M478.91,502.8 v1.6 M499.3,502.8 v1.6 M480.22,502.8 v1.6 M500.46,502.8 v1.6 M481.37,502.8 v1.6 M501.48,502.8 v1.6" stroke="#222" stroke-width="0.9"/>
<text transform="translate(442,514.2) scale(0.85,1)" font-size="8.3" text-anchor="middle" fill="#111" stroke="#111" stroke-width="0.18">0</text>
<text transform="translate(458.6,514.2) scale(0.82,1)" font-size="8.3" text-anchor="middle" fill="#111" stroke="#111" stroke-width="0.18">10</text>
<text transform="translate(462.3,510.8) scale(0.85,1)" font-size="6.2" text-anchor="start" fill="#111">3</text>
<text transform="translate(482.3,514.2) scale(0.82,1)" font-size="8.3" text-anchor="middle" fill="#111" stroke="#111" stroke-width="0.18">10</text>
<text transform="translate(486,510.8) scale(0.85,1)" font-size="6.2" text-anchor="start" fill="#111">4</text>
<text transform="translate(502.3,514.2) scale(0.82,1)" font-size="8.3" text-anchor="middle" fill="#111" stroke="#111" stroke-width="0.18">10</text>
<text transform="translate(506,510.8) scale(0.85,1)" font-size="6.2" text-anchor="start" fill="#111">5</text>
<text transform="translate(404.8,453.55) rotate(-90) scale(0.79,1)" font-size="11" text-anchor="middle" fill="#111" stroke="#111" stroke-width="0.15">Count</text>
<text transform="translate(468.45,525.8) scale(0.8,1)" font-size="10.6" text-anchor="middle" fill="#111" stroke="#111" stroke-width="0.15">Comp-V450-A:: VPD</text>
<text transform="translate(37.7,638.3) scale(1.0,1)" font-size="8.2" text-anchor="end" fill="#111" stroke="#111" stroke-width="0.15">0</text>
<text transform="translate(37.7,613.1) scale(1.0,1)" font-size="8.2" text-anchor="end" fill="#111" stroke="#111" stroke-width="0.15">1000</text>
<text transform="translate(37.7,587.9) scale(1.0,1)" font-size="8.2" text-anchor="end" fill="#111" stroke="#111" stroke-width="0.15">2000</text>
<text transform="translate(37.7,562.6) scale(1.0,1)" font-size="8.2" text-anchor="end" fill="#111" stroke="#111" stroke-width="0.15">3000</text>
<path d="M40.6,635.4 H43.8 M42.2,629.1 H43.8 M42.2,622.8 H43.8 M42.2,616.5 H43.8 M40.6,610.2 H43.8 M42.2,603.9 H43.8 M42.2,597.6 H43.8 M42.2,591.3 H43.8 M40.6,585 H43.8 M42.2,578.67 H43.8 M42.2,572.35 H43.8 M42.2,566.03 H43.8 M40.6,559.7 H43.8 M42.2,553.4 H43.8 M42.2,547.1 H43.8 M42.2,540.8 H43.8 M61.3,635.4 v3 M79.8,635.4 v3 M102.3,635.4 v3 M122.3,635.4 v3 M48.8,635.4 v2 M53.8,635.4 v2 M67.3,635.4 v1.6 M72.3,635.4 v1.6 M75.8,635.4 v1.6 M86.57,635.4 v1.6 M108.32,635.4 v1.6 M128.32,635.4 v1.6 M90.54,635.4 v1.6 M111.84,635.4 v1.6 M131.84,635.4 v1.6 M93.35,635.4 v1.6 M114.34,635.4 v1.6 M95.53,635.4 v1.6 M116.28,635.4 v1.6 M97.31,635.4 v1.6 M117.86,635.4 v1.6 M98.81,635.4 v1.6 M119.2,635.4 v1.6 M100.12,635.4 v1.6 M120.36,635.4 v1.6 M101.27,635.4 v1.6 M121.38,635.4 v1.6" stroke="#222" stroke-width="0.9"/>
<text transform="translate(61.9,647.5) scale(0.85,1)" font-size="8.3" text-anchor="middle" fill="#111" stroke="#111" stroke-width="0.18">0</text>
<text transform="translate(78.5,647.5) scale(0.82,1)" font-size="8.3" text-anchor="middle" fill="#111" stroke="#111" stroke-width="0.18">10</text>
<text transform="translate(82.2,644.1) scale(0.85,1)" font-size="6.2" text-anchor="start" fill="#111">3</text>
<text transform="translate(102.2,647.5) scale(0.82,1)" font-size="8.3" text-anchor="middle" fill="#111" stroke="#111" stroke-width="0.18">10</text>
<text transform="translate(105.9,644.1) scale(0.85,1)" font-size="6.2" text-anchor="start" fill="#111">4</text>
<text transform="translate(122.2,647.5) scale(0.82,1)" font-size="8.3" text-anchor="middle" fill="#111" stroke="#111" stroke-width="0.18">10</text>
<text transform="translate(125.9,644.1) scale(0.85,1)" font-size="6.2" text-anchor="start" fill="#111">5</text>
<text transform="translate(14.4,586.55) rotate(-90) scale(0.79,1)" font-size="11" text-anchor="middle" fill="#111" stroke="#111" stroke-width="0.15">Count</text>
<text transform="translate(169.1,638.3) scale(1.0,1)" font-size="8.2" text-anchor="end" fill="#111" stroke="#111" stroke-width="0.15">0</text>
<text transform="translate(169.1,612.1) scale(1.0,1)" font-size="8.2" text-anchor="end" fill="#111" stroke="#111" stroke-width="0.15">500</text>
<text transform="translate(169.1,585.8) scale(1.0,1)" font-size="8.2" text-anchor="end" fill="#111" stroke="#111" stroke-width="0.15">1000</text>
<text transform="translate(169.1,559.5) scale(1.0,1)" font-size="8.2" text-anchor="end" fill="#111" stroke="#111" stroke-width="0.15">1500</text>
<path d="M172,635.4 H175.2 M173.6,630.16 H175.2 M173.6,624.92 H175.2 M173.6,619.68 H175.2 M173.6,614.44 H175.2 M172,609.2 H175.2 M173.6,603.94 H175.2 M173.6,598.68 H175.2 M173.6,593.42 H175.2 M173.6,588.16 H175.2 M172,582.9 H175.2 M173.6,577.64 H175.2 M173.6,572.38 H175.2 M173.6,567.12 H175.2 M173.6,561.86 H175.2 M172,556.6 H175.2 M173.6,551.36 H175.2 M173.6,546.12 H175.2 M173.6,540.88 H175.2 M192.7,635.4 v3 M211.2,635.4 v3 M233.7,635.4 v3 M253.7,635.4 v3 M180.2,635.4 v2 M185.2,635.4 v2 M198.7,635.4 v1.6 M203.7,635.4 v1.6 M207.2,635.4 v1.6 M217.97,635.4 v1.6 M239.72,635.4 v1.6 M259.72,635.4 v1.6 M221.94,635.4 v1.6 M243.24,635.4 v1.6 M224.75,635.4 v1.6 M245.74,635.4 v1.6 M226.93,635.4 v1.6 M247.68,635.4 v1.6 M228.71,635.4 v1.6 M249.26,635.4 v1.6 M230.21,635.4 v1.6 M250.6,635.4 v1.6 M231.52,635.4 v1.6 M251.76,635.4 v1.6 M232.67,635.4 v1.6 M252.78,635.4 v1.6" stroke="#222" stroke-width="0.9"/>
<text transform="translate(193.3,647.5) scale(0.85,1)" font-size="8.3" text-anchor="middle" fill="#111" stroke="#111" stroke-width="0.18">0</text>
<text transform="translate(209.9,647.5) scale(0.82,1)" font-size="8.3" text-anchor="middle" fill="#111" stroke="#111" stroke-width="0.18">10</text>
<text transform="translate(213.6,644.1) scale(0.85,1)" font-size="6.2" text-anchor="start" fill="#111">3</text>
<text transform="translate(233.6,647.5) scale(0.82,1)" font-size="8.3" text-anchor="middle" fill="#111" stroke="#111" stroke-width="0.18">10</text>
<text transform="translate(237.3,644.1) scale(0.85,1)" font-size="6.2" text-anchor="start" fill="#111">4</text>
<text transform="translate(253.6,647.5) scale(0.82,1)" font-size="8.3" text-anchor="middle" fill="#111" stroke="#111" stroke-width="0.18">10</text>
<text transform="translate(257.3,644.1) scale(0.85,1)" font-size="6.2" text-anchor="start" fill="#111">5</text>
<text transform="translate(145.8,586.55) rotate(-90) scale(0.79,1)" font-size="11" text-anchor="middle" fill="#111" stroke="#111" stroke-width="0.15">Count</text>
<text transform="translate(296.2,638.3) scale(1.0,1)" font-size="8.2" text-anchor="end" fill="#111" stroke="#111" stroke-width="0.15">0</text>
<text transform="translate(296.2,610.4) scale(1.0,1)" font-size="8.2" text-anchor="end" fill="#111" stroke="#111" stroke-width="0.15">50</text>
<text transform="translate(296.2,582.5) scale(1.0,1)" font-size="8.2" text-anchor="end" fill="#111" stroke="#111" stroke-width="0.15">100</text>
<text transform="translate(296.2,554.5) scale(1.0,1)" font-size="8.2" text-anchor="end" fill="#111" stroke="#111" stroke-width="0.15">150</text>
<path d="M299.1,635.4 H302.3 M300.7,629.82 H302.3 M300.7,624.24 H302.3 M300.7,618.66 H302.3 M300.7,613.08 H302.3 M299.1,607.5 H302.3 M300.7,601.92 H302.3 M300.7,596.34 H302.3 M300.7,590.76 H302.3 M300.7,585.18 H302.3 M299.1,579.6 H302.3 M300.7,574 H302.3 M300.7,568.4 H302.3 M300.7,562.8 H302.3 M300.7,557.2 H302.3 M299.1,551.6 H302.3 M300.7,546.02 H302.3 M300.7,540.44 H302.3 M319.8,635.4 v3 M338.3,635.4 v3 M360.8,635.4 v3 M380.8,635.4 v3 M307.3,635.4 v2 M312.3,635.4 v2 M325.8,635.4 v1.6 M330.8,635.4 v1.6 M334.3,635.4 v1.6 M345.07,635.4 v1.6 M366.82,635.4 v1.6 M386.82,635.4 v1.6 M349.04,635.4 v1.6 M370.34,635.4 v1.6 M390.34,635.4 v1.6 M351.85,635.4 v1.6 M372.84,635.4 v1.6 M354.03,635.4 v1.6 M374.78,635.4 v1.6 M355.81,635.4 v1.6 M376.36,635.4 v1.6 M357.31,635.4 v1.6 M377.7,635.4 v1.6 M358.62,635.4 v1.6 M378.86,635.4 v1.6 M359.77,635.4 v1.6 M379.88,635.4 v1.6" stroke="#222" stroke-width="0.9"/>
<text transform="translate(320.4,647.5) scale(0.85,1)" font-size="8.3" text-anchor="middle" fill="#111" stroke="#111" stroke-width="0.18">0</text>
<text transform="translate(337,647.5) scale(0.82,1)" font-size="8.3" text-anchor="middle" fill="#111" stroke="#111" stroke-width="0.18">10</text>
<text transform="translate(340.7,644.1) scale(0.85,1)" font-size="6.2" text-anchor="start" fill="#111">3</text>
<text transform="translate(360.7,647.5) scale(0.82,1)" font-size="8.3" text-anchor="middle" fill="#111" stroke="#111" stroke-width="0.18">10</text>
<text transform="translate(364.4,644.1) scale(0.85,1)" font-size="6.2" text-anchor="start" fill="#111">4</text>
<text transform="translate(380.7,647.5) scale(0.82,1)" font-size="8.3" text-anchor="middle" fill="#111" stroke="#111" stroke-width="0.18">10</text>
<text transform="translate(384.4,644.1) scale(0.85,1)" font-size="6.2" text-anchor="start" fill="#111">5</text>
<text transform="translate(277.4,586.55) rotate(-90) scale(0.79,1)" font-size="11" text-anchor="middle" fill="#111" stroke="#111" stroke-width="0.15">Count</text>
<text transform="translate(417.8,638.3) scale(1.0,1)" font-size="8.2" text-anchor="end" fill="#111" stroke="#111" stroke-width="0.15">0</text>
<text transform="translate(417.8,612.1) scale(1.0,1)" font-size="8.2" text-anchor="end" fill="#111" stroke="#111" stroke-width="0.15">10</text>
<text transform="translate(417.8,585.8) scale(1.0,1)" font-size="8.2" text-anchor="end" fill="#111" stroke="#111" stroke-width="0.15">20</text>
<text transform="translate(417.8,559.5) scale(1.0,1)" font-size="8.2" text-anchor="end" fill="#111" stroke="#111" stroke-width="0.15">30</text>
<path d="M420.7,635.4 H423.9 M422.3,628.85 H423.9 M422.3,622.3 H423.9 M422.3,615.75 H423.9 M420.7,609.2 H423.9 M422.3,602.62 H423.9 M422.3,596.05 H423.9 M422.3,589.48 H423.9 M420.7,582.9 H423.9 M422.3,576.33 H423.9 M422.3,569.75 H423.9 M422.3,563.17 H423.9 M420.7,556.6 H423.9 M422.3,550.05 H423.9 M422.3,543.5 H423.9 M441.4,635.4 v3 M459.9,635.4 v3 M482.4,635.4 v3 M502.4,635.4 v3 M428.9,635.4 v2 M433.9,635.4 v2 M447.4,635.4 v1.6 M452.4,635.4 v1.6 M455.9,635.4 v1.6 M466.67,635.4 v1.6 M488.42,635.4 v1.6 M508.42,635.4 v1.6 M470.64,635.4 v1.6 M491.94,635.4 v1.6 M511.94,635.4 v1.6 M473.45,635.4 v1.6 M494.44,635.4 v1.6 M475.63,635.4 v1.6 M496.38,635.4 v1.6 M477.41,635.4 v1.6 M497.96,635.4 v1.6 M478.91,635.4 v1.6 M499.3,635.4 v1.6 M480.22,635.4 v1.6 M500.46,635.4 v1.6 M481.37,635.4 v1.6 M501.48,635.4 v1.6" stroke="#222" stroke-width="0.9"/>
<text transform="translate(442,647.5) scale(0.85,1)" font-size="8.3" text-anchor="middle" fill="#111" stroke="#111" stroke-width="0.18">0</text>
<text transform="translate(458.6,647.5) scale(0.82,1)" font-size="8.3" text-anchor="middle" fill="#111" stroke="#111" stroke-width="0.18">10</text>
<text transform="translate(462.3,644.1) scale(0.85,1)" font-size="6.2" text-anchor="start" fill="#111">3</text>
<text transform="translate(482.3,647.5) scale(0.82,1)" font-size="8.3" text-anchor="middle" fill="#111" stroke="#111" stroke-width="0.18">10</text>
<text transform="translate(486,644.1) scale(0.85,1)" font-size="6.2" text-anchor="start" fill="#111">4</text>
<text transform="translate(502.3,647.5) scale(0.82,1)" font-size="8.3" text-anchor="middle" fill="#111" stroke="#111" stroke-width="0.18">10</text>
<text transform="translate(506,644.1) scale(0.85,1)" font-size="6.2" text-anchor="start" fill="#111">5</text>
<text transform="translate(404.8,586.55) rotate(-90) scale(0.79,1)" font-size="11" text-anchor="middle" fill="#111" stroke="#111" stroke-width="0.15">Count</text>
<path d="M60,502.2 L62.85,502.27 L67.01,502.39 L71.23,502.41 L74.3,502.2 L75.72,501.81 L76.19,501.28 L76.3,500.46 L76.6,499.2 L77.21,497.41 L77.85,495.19 L78.46,492.68 L79,490 L79.44,487.18 L79.81,484.14 L80.15,480.91 L80.5,477.5 L80.88,473.84 L81.26,469.94 L81.64,465.95 L82,462 L82.34,457.87 L82.67,453.57 L82.99,449.61 L83.3,446.5 L83.58,444.51 L83.84,443.33 L84.1,442.58 L84.4,441.9 L84.76,441.38 L85.17,441.15 L85.56,440.9 L85.9,440.3 L86.13,439.14 L86.29,437.64 L86.46,436.12 L86.7,434.9 L87.05,434 L87.47,433.27 L87.91,432.78 L88.3,432.6 L88.63,432.67 L88.93,432.98 L89.22,433.67 L89.5,434.9 L89.77,436.82 L90.03,439.32 L90.3,442.13 L90.6,445 L90.93,448.01 L91.27,451.25 L91.65,454.46 L92.1,457.4 L92.64,459.87 L93.25,462.06 L93.89,464.24 L94.5,466.7 L95.08,469.78 L95.66,473.23 L96.23,476.49 L96.8,479 L97.38,480.37 L97.95,480.98 L98.52,481.4 L99.1,482.2 L99.69,483.61 L100.29,485.31 L100.87,487 L101.4,488.4 L101.85,489.5 L102.25,490.43 L102.62,491.12 L103,491.5 L103.38,491.71 L103.75,491.73 L104.12,491.26 L104.5,490 L104.9,487.9 L105.3,485.11 L105.7,481.64 L106.1,477.5 L106.48,472.53 L106.85,466.77 L107.22,460.58 L107.6,454.3 L108,447.68 L108.41,440.64 L108.82,433.84 L109.2,427.9 L109.55,422.9 L109.89,418.52 L110.2,414.86 L110.5,412 L110.78,410.04 L111.03,408.92 L111.27,408.44 L111.5,408.4 L111.71,408.48 L111.89,408.86 L112.08,410.17 L112.3,413 L112.56,417.84 L112.84,424.25 L113.13,431.49 L113.4,438.8 L113.63,446.33 L113.84,454.36 L114.06,462.36 L114.3,469.8 L114.58,476.86 L114.87,483.71 L115.19,489.81 L115.5,494.6 L115.79,497.71 L116.06,499.5 L116.37,500.54 L116.8,501.4 L117.15,502.04 L117.45,502.22 L118.1,502.2 L119.5,502.2 L122.23,502.26 L125.92,502.25 L129.52,502.22 L132,502.2" fill="none" stroke="#111" stroke-width="1.3" stroke-linejoin="round"/>
<path d="M70.4,458.1 H103.4 M70.4,455.8 v4.6 M103.4,455.8 v4.6" stroke="#222" stroke-width="1.15" fill="none"/>
<path d="M176,502.2 L176.54,502.2 L177.09,502.2 L177.63,502.2 L178.18,502.2 L178.72,502.2 L179.26,502.2 L179.81,502.2 L180.35,502.2 L180.89,502.2 L181.44,502.2 L181.98,502.2 L182.53,502.2 L183.07,502.2 L183.61,502.2 L184.16,502.2 L184.7,502.2 L185.24,502.2 L185.79,502.2 L186.33,502.2 L186.88,502.2 L187.42,502.2 L187.96,502.2 L188.51,502.2 L189.05,502.2 L189.59,502.2 L190.14,502.2 L190.68,502.2 L191.22,502.2 L191.77,502.2 L192.31,502.2 L192.86,502.2 L193.4,502.2 L193.94,502.2 L194.49,502.2 L195.03,502.2 L195.57,502.2 L196.12,502.2 L196.66,502.2 L197.21,502.2 L197.75,502.2 L198.29,502.2 L198.84,502.2 L199.38,502.2 L199.93,502.2 L200.47,502.2 L201.01,502.2 L201.56,502.2 L202.1,502.2 L202.64,502.2 L203.19,502.2 L203.73,502.2 L204.28,502.2 L204.82,502.2 L205.36,502.2 L205.91,502.2 L206.45,502.2 L206.99,502.2 L207.54,502.2 L208.08,502.2 L208.62,502.2 L209.17,502.2 L209.71,502.2 L210.26,502.2 L210.8,502.2 L211.34,502.2 L211.89,502.2 L212.43,502.2 L212.97,502.2 L213.52,502.2 L214.06,502.2 L214.61,502.2 L215.15,502.2 L215.69,502.2 L216.24,502.2 L216.78,502.2 L217.32,502.2 L217.87,502.2 L218.41,502.2 L218.96,502.2 L219.5,502.2 L220.04,502.2 L220.59,502.2 L221.13,502.2 L221.68,502.2 L222.22,502.2 L222.76,502.2 L223.31,502.2 L223.85,502.2 L224.39,502.2 L224.94,502.2 L225.48,502.2 L226.03,502.2 L226.57,502.2 L227.11,502.2 L227.66,502.2 L228.2,502.2 L228.74,502.2 L229.29,502.2 L229.83,502.2 L230.38,502.2 L230.92,502.2 L231.46,502.2 L232.01,502.2 L232.55,502.2 L233.09,502.2 L233.64,502.2 L234.18,502.2 L234.72,502.2 L235.27,500.59 L235.81,496.52 L236.36,491.7 L236.9,486.37 L237.44,480.65 L237.99,474.61 L238.53,468.3 L239.07,461.74 L239.62,454.97 L240.16,448.01 L240.71,440.88 L241.25,433.61 L241.79,426.25 L242.34,418.89 L242.88,412.04 L243.43,409.51 L243.97,415.04 L244.51,422.26 L245.06,429.64 L245.6,436.97 L246.14,444.18 L246.69,451.24 L247.23,458.11 L247.78,464.79 L248.32,471.23 L248.86,477.43 L249.41,483.32 L249.95,488.87 L250.49,493.99 L251.04,498.51 L251.58,501.99 L252.12,502.2 L252.67,502.2 L253.21,502.2 L253.76,502.2 L254.3,502.2 L254.84,502.2 L255.39,502.2 L255.93,502.2 L256.48,502.2 L257.02,502.2 L257.56,502.2 L258.11,502.2 L258.65,502.2 L259.19,502.2 L259.74,502.2 L260.28,502.2 L260.82,502.2 L261.37,502.2 L261.91,502.2 L262.46,502.2 L263,502.2" fill="none" stroke="#111" stroke-width="1.3" stroke-linejoin="round"/>
<path d="M201.3,458.1 H235 M201.3,455.8 v4.6 M235,455.8 v4.6" stroke="#222" stroke-width="1.15" fill="none"/>
<path d="M303,502.2 L311.6,502.23 L324.16,502.29 L336.76,502.3 L345.5,502.2 L348.76,501.88 L348.81,501.41 L347.59,500.99 L347,500.8 L347.07,500.99 L346.94,501.41 L347.21,501.88 L348.5,502.2 L351.52,502.31 L355.76,502.33 L360,502.28 L363,502.2 L364.26,502.16 L364.48,502.13 L364.29,501.96 L364.3,501.5 L364.6,500.82 L364.9,499.96 L365.2,498.74 L365.5,497 L365.82,494.71 L366.15,491.97 L366.48,488.74 L366.8,485 L367.11,480.56 L367.41,475.5 L367.7,470.19 L368,465 L368.3,460 L368.61,455 L368.91,450 L369.2,445 L369.48,439.74 L369.76,434.29 L370.03,429.21 L370.3,425 L370.56,421.79 L370.81,419.29 L371.05,417.48 L371.3,416.3 L371.55,415.91 L371.8,416.27 L372.05,417.08 L372.3,418 L372.55,418.92 L372.81,420.03 L373.06,421.44 L373.3,423.3 L373.53,425.58 L373.75,428.23 L373.97,431.34 L374.2,435 L374.44,439.42 L374.69,444.48 L374.95,449.81 L375.2,455 L375.45,460.12 L375.7,465.31 L375.95,470.35 L376.2,475 L376.45,479.24 L376.69,483.19 L376.94,486.79 L377.2,490 L377.47,492.81 L377.74,495.24 L378.02,497.3 L378.3,499 L378.36,500.28 L378.28,501.16 L378.51,501.76 L379.5,502.2 L381.82,502.42 L385.07,502.4 L388.29,502.27 L390.5,502.2" fill="none" stroke="#111" stroke-width="1.3" stroke-linejoin="round"/>
<path d="M328.7,458.1 H361.7 M328.7,455.8 v4.6 M361.7,455.8 v4.6" stroke="#222" stroke-width="1.15" fill="none"/>
<path d="M425,502.2 L434.4,502.24 L448.12,502.3 L461.91,502.31 L471.5,502.2 L475.13,501.92 L475.28,501.53 L474.04,501.07 L473.5,500.6 L474,500.1 L474.51,499.55 L475.01,499.03 L475.5,498.6 L475.98,498.28 L476.46,498.03 L476.93,497.86 L477.4,497.8 L477.87,497.86 L478.33,498.02 L478.8,498.28 L479.3,498.6 L479.83,499.03 L480.39,499.57 L480.96,500.13 L481.5,500.6 L482.02,500.99 L482.52,501.34 L483.02,501.62 L483.5,501.8 L483.98,501.9 L484.45,501.94 L484.9,501.85 L485.3,501.6 L485.65,501.27 L485.95,500.85 L486.23,500.16 L486.5,499 L486.76,497.46 L487.01,495.59 L487.25,493.17 L487.5,490 L487.75,485.73 L488.01,480.56 L488.26,475.12 L488.5,470 L488.71,465.21 L488.91,460.47 L489.1,456 L489.3,452 L489.52,448.5 L489.74,445.41 L489.97,442.71 L490.2,440.4 L490.45,438.57 L490.71,437.19 L490.96,436.06 L491.2,435 L491.42,433.94 L491.63,432.99 L491.83,432.2 L492,431.6 L492.15,431.24 L492.27,431.08 L492.38,431.06 L492.5,431.1 L492.62,431.13 L492.73,431.21 L492.85,431.45 L493,432 L493.18,432.77 L493.38,433.74 L493.59,435.09 L493.8,437 L494,439.52 L494.19,442.56 L494.39,446.07 L494.6,450 L494.82,454.51 L495.04,459.56 L495.27,464.84 L495.5,470 L495.74,475.23 L495.99,480.62 L496.24,485.7 L496.5,490 L496.76,493.39 L497.02,496.11 L497.3,498.28 L497.6,500 L497.65,501.15 L497.53,501.73 L497.79,501.99 L499,502.2 L501.84,502.35 L505.84,502.34 L509.79,502.25 L512.5,502.2" fill="none" stroke="#111" stroke-width="1.3" stroke-linejoin="round"/>
<path d="M450.5,458.1 H484.2 M450.5,455.8 v4.6 M484.2,455.8 v4.6" stroke="#222" stroke-width="1.15" fill="none"/>
<defs><linearGradient id="olv" x1="0" y1="0" x2="0" y2="1"><stop offset="0" stop-color="#6a7458" stop-opacity="0.95"/><stop offset="0.5" stop-color="#8a8a64" stop-opacity="0.6"/><stop offset="1" stop-color="#a09070" stop-opacity="0"/></linearGradient></defs>
<path d="M75.5,634.6 L75.96,633.36 L76.62,631.61 L77.35,629.46 L78,627 L78.55,624.06 L79.06,620.65 L79.55,617.17 L80,614 L80.41,611.29 L80.78,608.81 L81.14,606.43 L81.5,604 L81.86,601.38 L82.22,598.69 L82.59,596.15 L83,594 L83.47,592.35 L83.98,591.06 L84.5,589.99 L85,589 L85.47,588.07 L85.93,587.27 L86.38,586.59 L86.8,586 L87.2,585.43 L87.59,584.9 L87.95,584.58 L88.3,584.6 L88.6,584.96 L88.86,585.59 L89.14,586.58 L89.5,588 L89.98,590.08 L90.53,592.71 L91.12,595.46 L91.7,597.9 L92.26,599.88 L92.82,601.65 L93.39,603.37 L94,605.2 L94.64,607.27 L95.32,609.46 L96.01,611.6 L96.7,613.5 L97.4,615.03 L98.1,616.31 L98.8,617.56 L99.5,619 L100.21,620.78 L100.94,622.76 L101.62,624.69 L102.2,626.3 L102.64,627.46 L102.98,628.32 L103.28,629.1 L103.6,630 L103.98,631.19 L104.39,632.53 L104.75,633.75 L105,634.6 Z" fill="#e0bfe6"/>
<path d="M78.5,634.6 L78.89,632.53 L79.28,629.99 L79.67,627.31 L80.07,624.55 L80.46,621.72 L80.85,618.84 L81.24,615.94 L81.63,613.04 L82.03,610.17 L82.42,607.42 L82.81,605.08 L83.2,604 L83.59,605.08 L83.98,607.42 L84.38,610.17 L84.77,613.04 L85.16,615.94 L85.55,618.84 L85.94,621.72 L86.33,624.55 L86.73,627.31 L87.12,629.99 L87.51,632.53 L87.9,634.6 Z" fill="#c486cc" opacity="0.75"/>
<path d="M83.2,634.6 L83.62,631.27 L84.05,627.23 L84.47,622.97 L84.9,618.56 L85.33,614.06 L85.75,609.48 L86.17,604.85 L86.6,600.21 L87.03,595.61 L87.45,591.18 L87.88,587.33 L88.3,585.5 L88.72,587.33 L89.15,591.18 L89.57,595.61 L90,600.21 L90.42,604.85 L90.85,609.48 L91.27,614.06 L91.7,618.56 L92.12,622.97 L92.55,627.23 L92.97,631.27 L93.4,634.6 Z" fill="#cf9ad4" opacity="0.85"/>
<path d="M87.7,634.6 L88.11,632.12 L88.52,629.1 L88.92,625.91 L89.33,622.61 L89.74,619.24 L90.15,615.81 L90.56,612.36 L90.97,608.89 L91.38,605.46 L91.78,602.16 L92.19,599.33 L92.6,598 L93.01,599.33 L93.42,602.16 L93.82,605.46 L94.23,608.89 L94.64,612.36 L95.05,615.81 L95.46,619.24 L95.87,622.61 L96.28,625.91 L96.68,629.1 L97.09,632.12 L97.5,634.6 Z" fill="#c68ccd" opacity="0.7"/>
<path d="M91.9,634.6 L92.33,633.07 L92.75,631.21 L93.18,629.24 L93.6,627.22 L94.03,625.14 L94.45,623.04 L94.88,620.91 L95.3,618.77 L95.72,616.65 L96.15,614.61 L96.58,612.84 L97,612 L97.42,612.84 L97.85,614.61 L98.28,616.65 L98.7,618.77 L99.12,620.91 L99.55,623.04 L99.97,625.14 L100.4,627.22 L100.82,629.24 L101.25,631.21 L101.67,633.07 L102.1,634.6 Z" fill="#cfa0d6" opacity="0.7"/>
<path d="M83.4,634.6 L83.64,633.11 L83.88,631.02 L84.12,628.82 L84.37,626.55 L84.61,624.23 L84.85,621.9 L85.09,619.57 L85.33,617.28 L85.57,615.08 L85.82,613.1 L86.06,611.6 L86.3,611 L86.54,611.6 L86.78,613.1 L87.03,615.08 L87.27,617.28 L87.51,619.57 L87.75,621.9 L87.99,624.23 L88.23,626.55 L88.47,628.82 L88.72,631.02 L88.96,633.11 L89.2,634.6 Z" fill="#b276ba" opacity="0.6"/>
<path d="M87.9,634.6 L88.12,633.33 L88.35,631.48 L88.57,629.54 L88.8,627.53 L89.02,625.49 L89.25,623.44 L89.47,621.39 L89.7,619.38 L89.92,617.47 L90.15,615.77 L90.38,614.5 L90.6,614 L90.82,614.5 L91.05,615.77 L91.27,617.47 L91.5,619.38 L91.72,621.39 L91.95,623.44 L92.17,625.49 L92.4,627.53 L92.62,629.54 L92.85,631.48 L93.08,633.33 L93.3,634.6 Z" fill="#b57abd" opacity="0.55"/>
<path d="M96.8,634.6 L97.11,633.76 L97.42,632.69 L97.72,631.55 L98.03,630.38 L98.34,629.19 L98.65,627.98 L98.96,626.76 L99.27,625.55 L99.58,624.37 L99.88,623.27 L100.19,622.38 L100.5,622 L100.81,622.38 L101.12,623.27 L101.42,624.37 L101.73,625.55 L102.04,626.76 L102.35,627.98 L102.66,629.19 L102.97,630.38 L103.28,631.55 L103.58,632.69 L103.89,633.76 L104.2,634.6 Z" fill="#c896d0" opacity="0.6"/>
<path d="M99,634.6 L99.36,633.4 L99.88,631.68 L100.45,629.76 L101,628 L101.51,626.41 L102.03,624.84 L102.54,623.35 L103,622 L103.41,620.62 L103.78,619.25 L104.14,618.25 L104.5,618 L104.86,618.69 L105.22,620.09 L105.59,621.94 L106,624 L106.51,626.58 L107.09,629.67 L107.63,632.59 L108,634.6 Z" fill="#eab0c4"/>
<path d="M103,634.6 L103.25,633.33 L103.6,631.49 L103.98,629.56 L104.3,628 L104.52,627.2 L104.69,626.81 L104.86,626.25 L105.1,624.9 L105.42,622.6 L105.8,619.67 L106.2,616.25 L106.6,612.5 L107,608.5 L107.4,604.17 L107.8,599.35 L108.2,593.9 L108.6,587.3 L108.99,579.79 L109.37,572.36 L109.7,566 L109.97,560.98 L110.2,556.76 L110.4,553.16 L110.6,550 L110.79,547.06 L110.96,544.5 L111.13,542.69 L111.3,542 L111.47,542.69 L111.64,544.5 L111.82,547.06 L112,550 L112.17,553.09 L112.34,556.56 L112.54,560.76 L112.8,566 L113.15,572.84 L113.58,580.95 L114.01,589.33 L114.4,597 L114.73,604 L115.03,610.76 L115.32,616.84 L115.6,621.8 L115.88,625.35 L116.14,627.78 L116.41,629.55 L116.7,631.1 L117.04,632.46 L117.42,633.43 L117.76,634.11 L118,634.6 Z" fill="#ecaa86" stroke="#6e6448" stroke-width="0.7"/>
<path d="M109.7,556.5 L110.7,542.5 L111.9,542.5 L112.9,556.5 Z" fill="url(#olv)"/>
<path d="M74,634.6 L74.36,633.83 L74.88,632.74 L75.45,631.43 L76,630 L76.5,628.54 L77,626.96 L77.5,625.16 L78,623 L78.5,620.52 L79,617.75 L79.5,614.61 L80,611 L80.52,606.66 L81.04,601.71 L81.55,596.66 L82,592 L82.37,587.75 L82.69,583.69 L82.99,579.94 L83.3,576.6 L83.62,573.73 L83.94,571.26 L84.27,569.13 L84.6,567.3 L84.95,565.81 L85.3,564.66 L85.65,563.76 L86,563 L86.33,562.37 L86.64,561.92 L86.96,561.63 L87.3,561.5 L87.67,561.55 L88.06,561.77 L88.45,562.11 L88.8,562.5 L89.1,562.78 L89.36,563.03 L89.61,563.54 L89.9,564.6 L90.23,566.35 L90.59,568.61 L90.95,571.21 L91.3,574 L91.63,577.22 L91.96,580.86 L92.28,584.37 L92.6,587.2 L92.96,589.2 L93.33,590.68 L93.67,591.73 L93.9,592.5" fill="none" stroke="#a8b8a0" stroke-width="0.9" stroke-linejoin="round"/>
<path d="M60,634.6 L63.04,634.78 L67.48,635.08 L72,635.13 L75.3,634.6 L76.88,633.3 L77.48,631.46 L77.67,629.29 L78,627 L78.55,624.78 L79.04,622.47 L79.52,619.77 L80,616.4 L80.52,611.89 L81.04,606.53 L81.55,601.13 L82,596.5 L82.37,592.84 L82.69,589.72 L82.99,587.02 L83.3,584.6 L83.62,582.48 L83.95,580.71 L84.27,579.21 L84.6,577.9 L84.93,576.84 L85.26,576.04 L85.59,575.35 L85.9,574.6 L86.19,573.81 L86.47,573.04 L86.74,572.22 L87,571.3 L87.24,570.13 L87.46,568.78 L87.67,567.52 L87.9,566.6 L88.14,566.05 L88.39,565.76 L88.65,565.73 L88.9,566 L89.14,566.55 L89.38,567.39 L89.62,568.53 L89.9,570 L90.22,571.96 L90.58,574.35 L90.95,576.86 L91.3,579.2 L91.63,581.35 L91.96,583.44 L92.28,585.42 L92.6,587.2 L92.92,588.78 L93.25,590.18 L93.58,591.42 L93.9,592.5 L94.22,593.17 L94.54,593.52 L94.87,594.03 L95.2,595.2 L95.53,597.42 L95.86,600.34 L96.21,603.34 L96.6,605.8 L97.06,607.5 L97.56,608.78 L98.09,609.9 L98.6,611.1 L99.1,612.42 L99.6,613.74 L100.1,615.07 L100.6,616.4 L101.11,617.81 L101.62,619.27 L102.12,620.64 L102.6,621.8 L103.07,622.74 L103.52,623.52 L103.95,624.1 L104.3,624.4 L104.58,624.3 L104.81,623.86 L104.98,623.35 L105.1,623" fill="none" stroke="#222" stroke-width="1.1" stroke-linejoin="round"/>
<path d="M118,634.6 L131.5,634.6" fill="none" stroke="#222" stroke-width="1.1" stroke-linejoin="round"/>
<path d="M232,634.6 L232.21,634.6 L232.42,634.6 L232.63,634.6 L232.84,634.6 L233.05,634.6 L233.26,634.6 L233.47,634.6 L233.68,634.6 L233.89,634.6 L234.1,634.6 L234.31,634.6 L234.52,634.6 L234.73,634.6 L234.94,633.71 L235.15,632.28 L235.36,630.63 L235.57,628.83 L235.78,626.91 L235.99,624.89 L236.2,622.78 L236.41,620.59 L236.62,618.33 L236.83,616.01 L237.04,613.63 L237.25,611.19 L237.46,608.7 L237.67,606.16 L237.88,603.58 L238.09,600.95 L238.3,598.29 L238.51,595.58 L238.72,592.84 L238.93,590.06 L239.14,587.24 L239.35,584.4 L239.56,581.52 L239.77,578.62 L239.98,575.69 L240.19,572.73 L240.4,569.75 L240.61,566.74 L240.82,563.72 L241.03,560.69 L241.24,557.64 L241.45,554.6 L241.66,551.57 L241.87,548.58 L242.08,545.69 L242.29,543.03 L242.5,540.92 L242.71,540.1 L242.92,541.08 L243.13,543.27 L243.34,545.96 L243.55,548.86 L243.76,551.86 L243.97,554.89 L244.18,557.93 L244.39,560.98 L244.6,564.01 L244.81,567.03 L245.02,570.03 L245.23,573.01 L245.44,575.97 L245.65,578.9 L245.86,581.8 L246.07,584.67 L246.28,587.51 L246.49,590.32 L246.7,593.1 L246.91,595.84 L247.12,598.54 L247.33,601.21 L247.54,603.83 L247.75,606.41 L247.96,608.94 L248.17,611.42 L248.38,613.86 L248.59,616.23 L248.8,618.55 L249.01,620.8 L249.22,622.99 L249.43,625.09 L249.64,627.1 L249.85,629.01 L250.06,630.8 L250.27,632.42 L250.48,633.83 L250.69,634.6 L250.9,634.6 L251.11,634.6 L251.32,634.6 L251.53,634.6 L251.74,634.6 L251.95,634.6 L252.16,634.6 L252.37,634.6 L252.58,634.6 L252.79,634.6 L253,634.6 Z" fill="#ecaa86" stroke="#6e6448" stroke-width="0.8"/>
<path d="M241,558.5 L242.1,540.5 L243.3,540.5 L244.4,558.5 Z" fill="url(#olv)"/>
<path d="M243.6,548 L244.2,565 L244.9,590 L245.3,605" fill="none" stroke="#7a6a4a" stroke-width="0.6" stroke-linejoin="round"/>
<path d="M176,634.6 L262.5,634.6" fill="none" stroke="#222" stroke-width="1.0" stroke-linejoin="round"/>
<path d="M362,634.6 L362.42,634.62 L363.02,634.67 L363.66,634.56 L364.2,634.1 L364.59,633.31 L364.91,632.27 L365.2,630.87 L365.5,629 L365.83,626.65 L366.16,623.87 L366.48,620.65 L366.8,617 L367.1,612.77 L367.4,608 L367.7,602.98 L368,598 L368.32,593.12 L368.65,588.19 L368.98,583.16 L369.3,578 L369.61,572.46 L369.91,566.64 L370.21,561.01 L370.5,556 L370.78,551.47 L371.06,547.27 L371.33,543.86 L371.6,541.7 L371.86,541.2 L372.11,542.02 L372.35,543.5 L372.6,545 L372.85,546.47 L373.11,548.21 L373.36,550.1 L373.6,552 L373.83,553.74 L374.06,555.44 L374.28,557.4 L374.5,559.9 L374.7,563.05 L374.9,566.69 L375.1,570.71 L375.3,575 L375.52,579.7 L375.75,584.82 L375.98,590.03 L376.2,595 L376.41,599.73 L376.61,604.38 L376.8,608.83 L377,613 L377.2,616.94 L377.4,620.68 L377.6,624.08 L377.8,627 L377.99,629.41 L378.16,631.39 L378.36,632.95 L378.6,634.1 L378.94,634.7 L379.35,634.79 L379.73,634.66 L380,634.6 Z" fill="#ecaa86" stroke="#6e6448" stroke-width="0.8"/>
<path d="M369.8,560.2 L371,542.2 L372.2,542.2 L373.4,560.2 Z" fill="url(#olv)"/>
<path d="M364,634.6 L364.27,633.77 L364.66,632.58 L365.09,631.25 L365.5,630 L365.88,628.8 L366.25,627.56 L366.62,626.41 L367,625.5 L367.38,624.79 L367.75,624.22 L368.12,623.92 L368.5,624 L368.88,624.55 L369.25,625.49 L369.62,626.69 L370,628 L370.41,629.62 L370.84,631.55 L371.23,633.35 L371.5,634.6 Z" fill="#b880b8" opacity="0.8"/>
<path d="M303,634.6 L390.5,634.6" fill="none" stroke="#222" stroke-width="1.0" stroke-linejoin="round"/>
<path d="M482,634.6 L482.19,634.6 L482.38,634.6 L482.57,634.6 L482.76,634.6 L482.95,634.6 L483.14,634.6 L483.33,634.6 L483.52,634.6 L483.71,634.6 L483.9,634.6 L484.09,634.6 L484.28,634.6 L484.47,634.6 L484.66,634.6 L484.85,634.6 L485.04,634.6 L485.23,634.6 L485.42,634.6 L485.61,634.6 L485.8,633.53 L485.99,631.73 L486.18,629.76 L486.37,627.67 L486.56,625.5 L486.75,623.26 L486.94,620.95 L487.13,618.6 L487.32,616.2 L487.51,613.76 L487.7,611.29 L487.89,608.78 L488.08,606.24 L488.27,603.67 L488.46,601.07 L488.65,598.45 L488.84,595.8 L489.03,593.14 L489.22,590.46 L489.41,587.75 L489.6,585.04 L489.79,582.31 L489.98,579.58 L490.17,576.84 L490.36,574.11 L490.55,571.39 L490.74,568.7 L490.93,566.09 L491.12,563.63 L491.31,561.5 L491.5,560.11 L491.69,560.06 L491.88,561.26 L492.07,563.16 L492.26,565.37 L492.45,567.73 L492.64,570.16 L492.83,572.62 L493.02,575.1 L493.21,577.58 L493.4,580.06 L493.59,582.54 L493.78,585.01 L493.97,587.47 L494.16,589.91 L494.35,592.34 L494.54,594.76 L494.73,597.16 L494.92,599.54 L495.11,601.9 L495.3,604.24 L495.49,606.56 L495.68,608.86 L495.87,611.13 L496.06,613.37 L496.25,615.58 L496.44,617.76 L496.63,619.9 L496.82,622.01 L497.01,624.07 L497.2,626.08 L497.39,628.02 L497.58,629.9 L497.77,631.68 L497.96,633.32 L498.15,634.6 L498.34,634.6 L498.53,634.6 L498.72,634.6 L498.91,634.6 L499.1,634.6 L499.29,634.6 L499.48,634.6 L499.67,634.6 L499.86,634.6 L500.05,634.6 L500.24,634.6 L500.43,634.6 L500.62,634.6 L500.81,634.6 L501,634.6 Z" fill="#ecaa86" stroke="#6e6448" stroke-width="0.8"/>
<path d="M489.6,576.5 L491.2,560.5 L492.4,560.5 L494,576.5 Z" fill="url(#olv)"/>
<path d="M493.2,543.3 L493.2,575" fill="none" stroke="#3a3a30" stroke-width="1.0" stroke-linejoin="round"/>
<path d="M475.3,634.6 L476,627 L477,628 L478,631 L479,629 L480,632 L481,634.6" fill="none" stroke="#333" stroke-width="0.9" stroke-linejoin="round"/>
<path d="M425,634.6 L512.3,634.6" fill="none" stroke="#222" stroke-width="1.0" stroke-linejoin="round"/>
<rect x="43.8" y="404.3" width="89.2" height="98.5" fill="none" stroke="#1a1a1a" stroke-width="1.25"/>
<rect x="175.2" y="404.3" width="88.4" height="98.5" fill="none" stroke="#1a1a1a" stroke-width="1.25"/>
<rect x="302.3" y="404.3" width="89" height="98.5" fill="none" stroke="#1a1a1a" stroke-width="1.25"/>
<rect x="423.9" y="404.3" width="89.1" height="98.5" fill="none" stroke="#1a1a1a" stroke-width="1.25"/>
<rect x="43.8" y="537.7" width="89.2" height="97.7" fill="none" stroke="#1a1a1a" stroke-width="1.25"/>
<rect x="175.2" y="537.7" width="88.4" height="97.7" fill="none" stroke="#1a1a1a" stroke-width="1.25"/>
<rect x="302.3" y="537.7" width="89" height="97.7" fill="none" stroke="#1a1a1a" stroke-width="1.25"/>
<rect x="423.9" y="537.7" width="89.1" height="97.7" fill="none" stroke="#1a1a1a" stroke-width="1.25"/>
<text transform="translate(105.5,657) scale(0.9,1)" font-size="8.4" text-anchor="middle" fill="#111" stroke="#111" stroke-width="0.15">VPD</text>
<text transform="translate(88.3,668.6) scale(0.76,1)" font-size="10.8" text-anchor="middle" fill="#111" stroke="#111" stroke-width="0.15">Tcon</text>
<text transform="translate(220,667.9) scale(0.76,1)" font-size="10.8" text-anchor="middle" fill="#111" stroke="#111" stroke-width="0.15">Tcon<tspan font-size="8.6" dy="1.8">AA</tspan><tspan dy="-1.8">/Tr</tspan><tspan font-size="8.6" dy="1.8">eAA</tspan></text>
<text transform="translate(346.7,667.9) scale(0.76,1)" font-size="10.8" text-anchor="middle" fill="#111" stroke="#111" stroke-width="0.15">Tcon<tspan font-size="8.6" dy="1.8">HD</tspan><tspan dy="-1.8">/Tr</tspan><tspan font-size="8.6" dy="1.8">eAA</tspan></text>
<text transform="translate(468.9,667.9) scale(0.76,1)" font-size="10.8" text-anchor="middle" fill="#111" stroke="#111" stroke-width="0.15">Tcon<tspan font-size="8.6" dy="1.8">AA</tspan><tspan dy="-1.8">/Tr</tspan><tspan font-size="8.6" dy="1.8">eHD</tspan></text>
</svg>
<div id="fr"></div>
</body></html>
